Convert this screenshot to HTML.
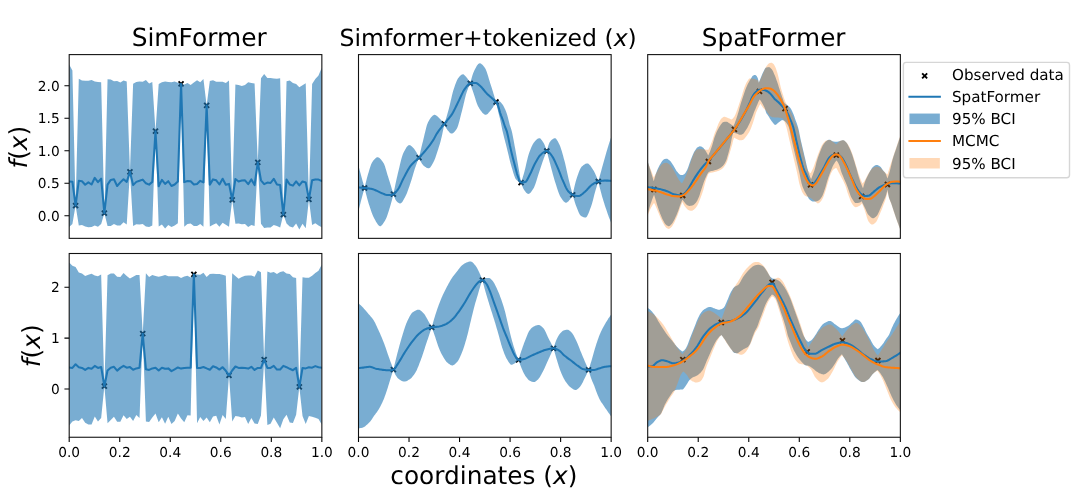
<!DOCTYPE html>
<html lang="en">
<head>
<meta charset="utf-8">
<title>SimFormer vs SpatFormer posterior comparison</title>
<style>
html,body{margin:0;padding:0;background:#ffffff;}
body{width:1088px;height:504px;overflow:hidden;}
svg text{fill:#000000;text-rendering:geometricPrecision;}
</style>
</head>
<body>
<svg width="1088" height="504" viewBox="0 0 1088 504" style="display:block;font-family:'DejaVu Sans', 'Liberation Sans', sans-serif">
<rect width="1088" height="504" fill="#ffffff"/>
<defs>
<clipPath id="c00"><rect x="69.2" y="54.6" width="252.65" height="183.75"/></clipPath>
<clipPath id="c01"><rect x="358.5" y="54.6" width="252.65" height="183.75"/></clipPath>
<clipPath id="c02"><rect x="647.7" y="54.6" width="252.65" height="183.75"/></clipPath>
<clipPath id="c10"><rect x="69.2" y="253.5" width="252.65" height="183.75"/></clipPath>
<clipPath id="c11"><rect x="358.5" y="253.5" width="252.65" height="183.75"/></clipPath>
<clipPath id="c12"><rect x="647.7" y="253.5" width="252.65" height="183.75"/></clipPath>
</defs>
<g clip-path="url(#c00)">
<path d="M73.09,203.1L78.09,208.1M73.09,208.1L78.09,203.1M101.86,210.7L106.86,215.7M101.86,215.7L106.86,210.7M127.43,169.3L132.43,174.3M127.43,174.3L132.43,169.3M153,128.7L158,133.7M153,133.7L158,128.7M178.57,81.4L183.57,86.4M178.57,86.4L183.57,81.4M204.14,102.9L209.14,107.9M204.14,107.9L209.14,102.9M229.71,197.3L234.71,202.3M229.71,202.3L234.71,197.3M255.28,159.8L260.28,164.8M255.28,164.8L260.28,159.8M280.85,212.1L285.85,217.1M280.85,217.1L285.85,212.1M306.42,196.9L311.42,201.9M306.42,201.9L311.42,196.9" fill="none" stroke="#000000" stroke-width="1.9" stroke-linecap="butt"/>
<path d="M69.2,64.5L72.4,70.4L75.59,205.6L78.79,78.65L81.98,80.5L85.18,80.75L88.38,80.7L91.57,80L94.77,81.6L97.97,81.9L101.16,82.3L104.36,213.2L107.55,79.3L110.75,79.6L113.95,81.2L117.14,81.1L120.34,82.5L123.54,80.5L126.73,81.4L129.93,171.8L133.12,83.7L136.32,82.1L139.52,81.4L142.71,81.85L145.91,80L149.11,83.6L152.3,82.1L155.5,131.2L158.69,84.1L161.89,82.3L165.09,81.4L168.28,82.1L171.48,82.3L174.67,81.6L177.87,82.8L181.07,83.9L184.26,84.6L187.46,82.9L190.66,85L193.85,82.5L197.05,80.3L200.24,82.3L203.44,79.1L206.64,105.4L209.83,81.1L213.03,80.3L216.23,81.7L219.42,81.85L222.62,81.7L225.81,83L229.01,80.5L232.21,199.8L235.4,84.6L238.6,85L241.79,85.95L244.99,84.9L248.19,82.3L251.38,83L254.58,83.4L257.78,162.3L260.97,78.2L264.17,73.9L267.36,77.9L270.56,78L273.76,78.5L276.95,78.8L280.15,78.2L283.35,214.6L286.54,81.2L289.74,80.5L292.93,83L296.13,84.1L299.33,87.3L302.52,85.2L305.72,83.2L308.92,199.4L312.11,84.1L315.31,79.1L318.5,75.5L321.7,67.7L321.7,227.3L318.5,225.5L315.31,223.2L312.11,224.9L308.92,199.4L305.72,228.3L302.52,223.7L299.33,229.5L296.13,223.4L292.93,227.6L289.74,226.4L286.54,223.4L283.35,214.6L280.15,227.6L276.95,226.1L273.76,225L270.56,227.6L267.36,227.6L264.17,227.96L260.97,223.7L257.78,162.3L254.58,225.95L251.38,225L248.19,227.05L244.99,224.1L241.79,224.3L238.6,223.4L235.4,223.7L232.21,199.8L229.01,226.7L225.81,224.8L222.62,222.8L219.42,226.7L216.23,223.2L213.03,224.8L209.83,226.4L206.64,105.4L203.44,226.7L200.24,223.9L197.05,225.95L193.85,226.1L190.66,223.4L187.46,223.9L184.26,226.7L181.07,83.9L177.87,223.2L174.67,225.5L171.48,226.9L168.28,224.9L165.09,228.5L161.89,224.6L158.69,226.4L155.5,131.2L152.3,225.5L149.11,226.9L145.91,226.4L142.71,223.9L139.52,224.6L136.32,224.3L133.12,226.1L129.93,171.8L126.73,224.6L123.54,222.3L120.34,225.5L117.14,225.5L113.95,224.1L110.75,226.1L107.55,225.95L104.36,213.2L101.16,224.1L97.97,226.7L94.77,225.5L91.57,227.05L88.38,227.3L85.18,226.4L81.98,224.9L78.79,225.5L75.59,205.6L72.4,224.1L69.2,226.9Z" fill="#1f77b4" fill-opacity="0.6" stroke="none"/>
<path d="M69.2,181.45L72.4,181.7L75.59,205.6L78.79,180.8L81.98,181.2L85.18,184.8L88.38,182.4L91.57,184.5L94.77,177.8L97.97,182.1L101.16,178.7L104.36,213.2L107.55,184.65L110.75,179.9L113.95,179.2L117.14,186L120.34,182.4L123.54,179.2L126.73,181.9L129.93,171.8L133.12,185.1L136.32,181.9L139.52,180.8L142.71,179.6L145.91,183.3L149.11,184.65L152.3,181.9L155.5,131.2L158.69,186.3L161.89,179.9L165.09,183.9L168.28,181.2L171.48,186L174.67,184.5L177.87,181.45L181.07,83.9L184.26,182.1L187.46,181L190.66,181.2L193.85,184.5L197.05,183.9L200.24,180.8L203.44,182.4L206.64,105.4L209.83,184.65L213.03,179.4L216.23,180.3L219.42,184.5L222.62,178.7L225.81,184.65L229.01,183.9L232.21,199.8L235.4,179L238.6,181.45L241.79,180.5L244.99,180.3L248.19,184.2L251.38,179.4L254.58,185.1L257.78,162.3L260.97,180.3L264.17,184.2L267.36,182.6L270.56,183L273.76,178.8L276.95,184.6L280.15,185.1L283.35,214.6L286.54,179.6L289.74,184.5L292.93,185.6L296.13,181.45L299.33,185.4L302.52,181.45L305.72,182.4L308.92,199.4L312.11,180.3L315.31,179.4L318.5,179.6L321.7,181" fill="none" stroke="#1f77b4" stroke-width="2.05" stroke-linejoin="round" stroke-linecap="square"/>
</g>
<rect x="69.2" y="54.6" width="252.65" height="183.75" fill="none" stroke="#111111" stroke-width="1.09" stroke-linejoin="miter"/>
<path d="M69.2,215.8h-4.77M69.2,183.3h-4.77M69.2,150.8h-4.77M69.2,118.3h-4.77M69.2,85.8h-4.77" fill="none" stroke="#000000" stroke-width="1.09"/>
<text x="59.7" y="220.8" font-size="13.75" text-anchor="end">0.0</text>
<text x="59.7" y="188.3" font-size="13.75" text-anchor="end">0.5</text>
<text x="59.7" y="155.8" font-size="13.75" text-anchor="end">1.0</text>
<text x="59.7" y="123.3" font-size="13.75" text-anchor="end">1.5</text>
<text x="59.7" y="90.8" font-size="13.75" text-anchor="end">2.0</text>
<g clip-path="url(#c01)">
<path d="M362.1,185.5L367.1,190.5M362.1,190.5L367.1,185.5M390.9,191.7L395.9,196.7M390.9,196.7L395.9,191.7M416.5,155.2L421.5,160.2M416.5,160.2L421.5,155.2M441.8,121.4L446.8,126.4M441.8,126.4L446.8,121.4M467.75,80.9L472.75,85.9M467.75,85.9L472.75,80.9M493.5,99.5L498.5,104.5M493.5,104.5L498.5,99.5M518.55,180.1L523.55,185.1M518.55,185.1L523.55,180.1M544.3,148.5L549.3,153.5M544.3,153.5L549.3,148.5M570.2,192.3L575.2,197.3M570.2,197.3L575.2,192.3M595.8,179L600.8,184M595.8,184L600.8,179" fill="none" stroke="#000000" stroke-width="1.9" stroke-linecap="butt"/>
<path d="M358,163.63L358.47,165.49L358.94,167.33L359.41,169.15L359.89,170.96L360.36,172.75L360.83,174.52L361.3,176.26L361.77,177.99L362.24,179.71L362.71,181.4L363.19,183.08L363.66,184.74L364.13,186.38L364.6,188L365.1,185.78L365.59,183.61L366.09,181.53L366.59,179.52L367.08,177.61L367.58,175.8L368.08,174.11L368.57,172.41L369.07,170.71L369.57,169.05L370.06,167.46L370.56,165.97L371.06,164.61L371.55,163.43L372.05,162.45L372.54,161.7L373.04,161.02L373.54,160.36L374.03,159.74L374.53,159.16L375.03,158.64L375.52,158.19L376.02,157.81L376.52,157.53L377.01,157.36L377.51,157.3L378.01,157.36L378.5,157.52L379,157.77L379.5,158.11L379.99,158.53L380.49,159.02L380.99,159.57L381.48,160.17L381.98,160.81L382.48,161.48L382.97,162.18L383.47,162.9L383.97,163.81L384.46,164.98L384.96,166.35L385.46,167.89L385.95,169.54L386.45,171.25L386.94,172.99L387.44,174.69L387.94,176.31L388.43,177.86L388.93,179.43L389.43,181.01L389.92,182.61L390.42,184.22L390.92,185.85L391.41,187.49L391.91,189.14L392.41,190.81L392.9,192.5L393.4,194.2L393.89,191.72L394.38,189.28L394.88,186.89L395.37,184.54L395.86,182.24L396.35,179.99L396.85,177.8L397.34,175.67L397.83,173.6L398.32,171.56L398.82,169.48L399.31,167.38L399.8,165.29L400.29,163.23L400.78,161.24L401.28,159.35L401.77,157.58L402.26,155.97L402.75,154.54L403.25,153.33L403.74,152.33L404.23,151.37L404.72,150.43L405.22,149.51L405.71,148.65L406.2,147.84L406.69,147.11L407.18,146.47L407.68,145.93L408.17,145.52L408.66,145.24L409.15,145.11L409.65,145.13L410.14,145.29L410.63,145.54L411.12,145.89L411.62,146.31L412.11,146.77L412.6,147.27L413.09,147.78L413.58,148.29L414.08,148.84L414.57,149.46L415.06,150.15L415.55,150.9L416.05,151.72L416.54,152.59L417.03,153.52L417.52,154.5L418.02,155.52L418.51,156.59L419,157.7L419.5,155.53L419.99,153.38L420.49,151.26L420.98,149.17L421.48,147.11L421.98,145.08L422.47,143.09L422.97,141.13L423.46,139.1L423.96,136.99L424.46,134.85L424.95,132.72L425.45,130.64L425.95,128.65L426.44,126.8L426.94,125.11L427.43,123.64L427.93,122.42L428.43,121.49L428.92,120.65L429.42,119.84L429.91,119.05L430.41,118.3L430.91,117.61L431.4,116.97L431.9,116.39L432.39,115.89L432.89,115.47L433.39,115.15L433.88,114.92L434.38,114.81L434.87,114.82L435.37,114.95L435.87,115.19L436.36,115.52L436.86,115.91L437.35,116.35L437.85,116.82L438.35,117.31L438.84,117.78L439.34,118.22L439.84,118.68L440.33,119.16L440.83,119.68L441.32,120.21L441.82,120.77L442.32,121.36L442.81,121.96L443.31,122.59L443.8,123.24L444.3,123.9L444.8,122.4L445.3,120.85L445.8,119.28L446.3,117.66L446.8,116.01L447.29,114.32L447.79,112.59L448.29,110.83L448.79,108.97L449.29,106.98L449.79,104.89L450.29,102.75L450.79,100.57L451.29,98.41L451.79,96.29L452.28,94.25L452.78,92.32L453.28,90.55L453.78,88.95L454.28,87.47L454.78,86.01L455.28,84.59L455.78,83.22L456.28,81.94L456.78,80.76L457.27,79.7L457.77,78.8L458.27,78.06L458.77,77.46L459.27,76.87L459.77,76.31L460.27,75.79L460.77,75.32L461.27,74.93L461.77,74.61L462.27,74.4L462.76,74.3L463.26,74.35L463.76,74.57L464.26,74.92L464.76,75.39L465.26,75.93L465.76,76.51L466.26,77.11L466.76,77.68L467.26,78.31L467.75,79.01L468.25,79.78L468.75,80.61L469.25,81.49L469.75,82.43L470.25,83.4L470.75,81.45L471.24,79.56L471.74,77.74L472.23,76.04L472.73,74.48L473.22,73.09L473.72,71.89L474.21,70.86L474.71,69.85L475.2,68.85L475.7,67.89L476.19,66.97L476.69,66.11L477.18,65.34L477.68,64.66L478.17,64.1L478.67,63.68L479.16,63.41L479.66,63.3L480.15,63.35L480.65,63.51L481.14,63.78L481.64,64.13L482.13,64.56L482.63,65.06L483.12,65.62L483.62,66.22L484.12,66.85L484.61,67.51L485.11,68.2L485.6,69.09L486.1,70.19L486.59,71.47L487.09,72.9L487.58,74.44L488.08,76.06L488.57,77.72L489.07,79.4L489.56,81.05L490.06,82.65L490.55,84.17L491.05,85.7L491.54,87.25L492.04,88.82L492.53,90.41L493.03,92.01L493.52,93.63L494.02,95.27L494.51,96.93L495.01,98.6L495.5,100.29L496,102L496.49,101.69L496.98,101.47L497.47,101.33L497.96,101.25L498.46,101.21L498.95,101.2L499.44,101.23L499.93,101.48L500.42,101.91L500.91,102.47L501.4,103.08L501.89,103.69L502.39,104.33L502.88,105.05L503.37,105.86L503.86,106.75L504.35,107.69L504.84,108.7L505.33,109.81L505.82,111.03L506.31,112.35L506.81,113.76L507.3,115.27L507.79,116.96L508.28,118.94L508.77,121.03L509.26,123.07L509.75,124.88L510.24,126.37L510.74,127.74L511.23,129.22L511.72,131.03L512.21,133.12L512.7,135.45L513.19,137.95L513.68,140.57L514.17,143.25L514.66,145.95L515.16,148.6L515.65,151.27L516.14,154.02L516.63,156.82L517.12,159.66L517.61,162.51L518.1,165.36L518.59,168.2L519.09,171.05L519.58,173.92L520.07,176.8L520.56,179.69L521.05,182.6L521.55,181.11L522.04,179.58L522.54,178L523.03,176.37L523.53,174.7L524.02,172.99L524.52,171.21L525.01,169.27L525.51,167.2L526,165.05L526.5,162.87L526.99,160.72L527.49,158.65L527.98,156.72L528.48,154.99L528.97,153.49L529.47,152.12L529.96,150.78L530.46,149.49L530.95,148.26L531.45,147.08L531.94,145.98L532.44,144.96L532.93,144.03L533.43,143.2L533.92,142.48L534.42,141.88L534.92,141.33L535.41,140.79L535.91,140.27L536.4,139.78L536.9,139.33L537.39,138.94L537.89,138.62L538.38,138.39L538.88,138.24L539.37,138.2L539.87,138.33L540.36,138.62L540.86,139.07L541.35,139.63L541.85,140.29L542.34,141.01L542.84,141.77L543.33,142.54L543.83,143.35L544.32,144.32L544.82,145.44L545.31,146.69L545.81,148.05L546.3,149.49L546.8,151L547.3,149.13L547.8,147.32L548.29,145.64L548.79,144.16L549.29,142.94L549.79,142.05L550.29,141.44L550.78,140.87L551.28,140.33L551.78,139.84L552.28,139.41L552.78,139.03L553.27,138.71L553.77,138.47L554.27,138.3L554.77,138.21L555.27,138.24L555.77,138.51L556.26,138.99L556.76,139.65L557.26,140.44L557.76,141.33L558.26,142.28L558.75,143.23L559.25,144.2L559.75,145.3L560.25,146.56L560.75,147.96L561.24,149.47L561.74,151.09L562.24,152.78L562.74,154.54L563.24,156.34L563.73,158.18L564.23,160.02L564.73,161.87L565.23,163.86L565.73,165.98L566.23,168.2L566.72,170.48L567.22,172.78L567.72,175.08L568.22,177.33L568.72,179.5L569.21,181.56L569.71,183.55L570.21,185.51L570.71,187.44L571.21,189.33L571.7,191.19L572.2,193.01L572.7,194.8L573.19,192.4L573.68,190.06L574.18,187.81L574.67,185.67L575.16,183.66L575.65,181.79L576.15,180.1L576.64,178.57L577.13,177.08L577.62,175.62L578.12,174.2L578.61,172.84L579.1,171.56L579.59,170.37L580.08,169.29L580.58,168.33L581.07,167.51L581.56,166.85L582.05,166.36L582.55,165.92L583.04,165.49L583.53,165.09L584.02,164.72L584.52,164.38L585.01,164.09L585.5,163.84L585.99,163.64L586.48,163.49L586.98,163.42L587.47,163.41L587.96,163.53L588.45,163.79L588.95,164.17L589.44,164.65L589.93,165.21L590.42,165.84L590.92,166.52L591.41,167.23L591.9,167.97L592.39,168.7L592.88,169.42L593.38,170.19L593.87,171.04L594.36,171.96L594.85,172.96L595.35,174.02L595.84,175.14L596.33,176.32L596.82,177.55L597.32,178.82L597.81,180.14L598.3,181.5L598.79,179.68L599.29,177.86L599.78,176.05L600.27,174.24L600.76,172.44L601.26,170.65L601.75,168.86L602.24,167.08L602.73,165.3L603.23,163.52L603.72,161.74L604.21,159.96L604.7,158.18L605.2,156.42L605.69,154.69L606.18,152.98L606.67,151.31L607.17,149.67L607.66,148.05L608.15,146.44L608.64,144.86L609.14,143.3L609.63,141.76L610.12,140.25L610.61,138.75L611.11,137.29L611.6,135.85L611.6,224.05L611.11,222.83L610.61,221.59L610.12,220.33L609.63,219.04L609.14,217.73L608.64,216.39L608.15,215.03L607.66,213.65L607.17,212.24L606.67,210.81L606.18,209.36L605.69,207.9L605.2,206.41L604.7,204.91L604.21,203.37L603.72,201.81L603.23,200.21L602.73,198.57L602.24,196.89L601.75,195.16L601.26,193.37L600.76,191.52L600.27,189.61L599.78,187.65L599.29,185.64L598.79,183.59L598.3,181.5L597.81,183L597.32,184.52L596.82,186.08L596.33,187.67L595.84,189.28L595.35,190.95L594.85,192.74L594.36,194.62L593.87,196.56L593.38,198.52L592.88,200.44L592.39,202.28L591.9,204.01L591.41,205.57L590.92,206.92L590.42,208.23L589.93,209.57L589.44,210.91L588.95,212.21L588.45,213.44L587.96,214.58L587.47,215.58L586.98,216.41L586.48,217.05L585.99,217.46L585.5,217.6L585.01,217.57L584.52,217.5L584.02,217.37L583.53,217.21L583.04,217.01L582.55,216.77L582.05,216.51L581.56,216.22L581.07,215.91L580.58,215.54L580.08,214.96L579.59,214.18L579.1,213.25L578.61,212.19L578.12,211.04L577.62,209.81L577.13,208.56L576.64,207.3L576.15,206.05L575.65,204.7L575.16,203.26L574.67,201.72L574.18,200.09L573.68,198.39L573.19,196.62L572.7,194.8L572.2,195.81L571.7,196.77L571.21,197.66L570.71,198.46L570.21,199.15L569.71,199.73L569.21,200.31L568.72,200.88L568.22,201.41L567.72,201.87L567.22,202.26L566.72,202.54L566.23,202.68L565.73,202.68L565.23,202.53L564.73,202.25L564.23,201.87L563.73,201.38L563.24,200.82L562.74,200.2L562.24,199.53L561.74,198.82L561.24,198.1L560.75,197.37L560.25,196.51L559.75,195.48L559.25,194.32L558.75,193.04L558.26,191.67L557.76,190.21L557.26,188.7L556.76,187.15L556.26,185.59L555.77,184.03L555.27,182.49L554.77,180.9L554.27,179.23L553.77,177.49L553.27,175.71L552.78,173.89L552.28,172.04L551.78,170.17L551.28,168.3L550.78,166.44L550.29,164.58L549.79,162.7L549.29,160.79L548.79,158.87L548.29,156.93L547.8,154.97L547.3,152.99L546.8,151L546.3,152.14L545.81,153.32L545.31,154.52L544.82,155.76L544.32,157.02L543.83,158.32L543.33,159.65L542.84,161.04L542.34,162.47L541.85,163.95L541.35,165.45L540.86,166.97L540.36,168.49L539.87,170.01L539.37,171.5L538.88,172.97L538.38,174.47L537.89,176.05L537.39,177.67L536.9,179.31L536.4,180.93L535.91,182.5L535.41,183.98L534.92,185.36L534.42,186.59L533.92,187.65L533.43,188.51L532.93,189.29L532.44,190.05L531.94,190.8L531.45,191.5L530.95,192.14L530.46,192.71L529.96,193.19L529.47,193.55L528.97,193.8L528.48,193.9L527.98,193.84L527.49,193.65L526.99,193.32L526.5,192.89L526,192.38L525.51,191.8L525.01,191.18L524.52,190.53L524.02,189.85L523.53,188.99L523.03,187.95L522.54,186.76L522.04,185.46L521.55,184.06L521.05,182.6L520.56,182.56L520.07,182.44L519.58,182.26L519.09,182.01L518.59,181.7L518.1,181.34L517.61,180.94L517.12,180.5L516.63,180.03L516.14,179.54L515.65,178.91L515.16,178L514.66,176.85L514.17,175.51L513.68,174.03L513.19,172.43L512.7,170.76L512.21,169.07L511.72,167.39L511.23,165.75L510.74,164L510.24,162.13L509.75,160.18L509.26,158.16L508.77,156.1L508.28,154.02L507.79,151.95L507.3,149.91L506.81,147.93L506.31,146L505.82,144.11L505.33,142.24L504.84,140.37L504.35,138.48L503.86,136.56L503.37,134.58L502.88,132.53L502.39,130.38L501.89,128.05L501.4,125.51L500.91,122.97L500.42,120.65L499.93,118.59L499.44,116.65L498.95,114.71L498.46,112.68L497.96,110.6L497.47,108.49L496.98,106.36L496.49,104.19L496,102L495.5,102.93L495.01,103.84L494.51,104.71L494.02,105.56L493.52,106.37L493.03,107.15L492.53,107.9L492.04,108.61L491.54,109.28L491.05,109.92L490.55,110.51L490.06,111.08L489.56,111.66L489.07,112.26L488.57,112.85L488.08,113.4L487.58,113.89L487.09,114.3L486.59,114.6L486.1,114.77L485.6,114.79L485.11,114.7L484.61,114.51L484.12,114.23L483.62,113.87L483.12,113.44L482.63,112.94L482.13,112.38L481.64,111.76L481.14,111.1L480.65,110.4L480.15,109.67L479.66,108.92L479.16,108.15L478.67,107.37L478.17,106.53L477.68,105.49L477.18,104.27L476.69,102.9L476.19,101.42L475.7,99.88L475.2,98.31L474.71,96.74L474.21,95.22L473.72,93.77L473.22,92.33L472.73,90.87L472.23,89.4L471.74,87.92L471.24,86.42L470.75,84.92L470.25,83.4L469.75,84.37L469.25,85.43L468.75,86.59L468.25,87.84L467.75,89.16L467.26,90.56L466.76,92.03L466.26,93.59L465.76,95.36L465.26,97.29L464.76,99.34L464.26,101.46L463.76,103.61L463.26,105.75L462.76,107.83L462.27,109.81L461.77,111.67L461.27,113.59L460.77,115.58L460.27,117.59L459.77,119.58L459.27,121.51L458.77,123.33L458.27,125.01L457.77,126.49L457.27,127.75L456.78,128.73L456.28,129.46L455.78,130.16L455.28,130.82L454.78,131.44L454.28,132.01L453.78,132.51L453.28,132.93L452.78,133.26L452.28,133.48L451.79,133.59L451.29,133.57L450.79,133.39L450.29,133.09L449.79,132.68L449.29,132.18L448.79,131.62L448.29,131.01L447.79,130.39L447.29,129.77L446.8,129.05L446.3,128.2L445.8,127.24L445.3,126.19L444.8,125.07L444.3,123.9L443.8,126.58L443.31,129.15L442.81,131.61L442.32,133.95L441.82,136.19L441.32,138.3L440.83,140.28L440.33,142.14L439.84,143.88L439.34,145.52L438.84,147.11L438.35,148.65L437.85,150.18L437.35,151.74L436.86,153.3L436.36,154.85L435.87,156.34L435.37,157.76L434.87,159.09L434.38,160.3L433.88,161.37L433.39,162.28L432.89,163.19L432.39,164.1L431.9,164.97L431.4,165.8L430.91,166.55L430.41,167.2L429.91,167.72L429.42,168.09L428.92,168.28L428.43,168.29L427.93,168.21L427.43,168.08L426.94,167.88L426.44,167.64L425.95,167.35L425.45,167.02L424.95,166.67L424.46,166.29L423.96,165.89L423.46,165.48L422.97,164.98L422.47,164.36L421.98,163.63L421.48,162.81L420.98,161.91L420.49,160.93L419.99,159.9L419.5,158.82L419,157.7L418.51,158.87L418.02,160.08L417.52,161.33L417.03,162.61L416.54,163.93L416.05,165.28L415.55,166.67L415.06,168.1L414.57,169.62L414.08,171.21L413.58,172.86L413.09,174.53L412.6,176.21L412.11,177.87L411.62,179.48L411.12,181.03L410.63,182.5L410.14,183.96L409.65,185.43L409.15,186.89L408.66,188.34L408.17,189.75L407.68,191.12L407.18,192.42L406.69,193.65L406.2,194.79L405.71,195.83L405.22,196.75L404.72,197.65L404.23,198.57L403.74,199.49L403.25,200.36L402.75,201.18L402.26,201.92L401.77,202.54L401.28,203.03L400.78,203.35L400.29,203.5L399.8,203.46L399.31,203.33L398.82,203.1L398.32,202.79L397.83,202.42L397.34,202L396.85,201.54L396.35,201.04L395.86,200.35L395.37,199.42L394.88,198.3L394.38,197.04L393.89,195.65L393.4,194.2L392.9,196.24L392.41,198.22L391.91,200.15L391.41,202.02L390.92,203.83L390.42,205.55L389.92,207.2L389.43,208.79L388.93,210.39L388.43,211.98L387.94,213.53L387.44,215.01L386.94,216.41L386.45,217.7L385.95,218.86L385.46,219.86L384.96,220.7L384.46,221.52L383.97,222.33L383.47,223.12L382.97,223.85L382.48,224.52L381.98,225.11L381.48,225.58L380.99,225.94L380.49,226.15L379.99,226.2L379.5,226.07L379,225.77L378.5,225.34L378.01,224.77L377.51,224.1L377.01,223.34L376.52,222.52L376.02,221.64L375.52,220.74L375.03,219.82L374.53,218.91L374.03,218.01L373.54,217.02L373.04,215.93L372.54,214.74L372.05,213.48L371.55,212.15L371.06,210.75L370.56,209.3L370.06,207.81L369.57,206.29L369.07,204.74L368.57,203.17L368.08,201.53L367.58,199.8L367.08,197.99L366.59,196.11L366.09,194.16L365.59,192.16L365.1,190.1L364.6,188L364.13,189.57L363.66,191.18L363.19,192.82L362.71,194.51L362.24,196.22L361.77,197.98L361.3,199.76L360.83,201.59L360.36,203.46L359.89,205.37L359.41,207.32L358.94,209.3L358.47,211.32L358,213.38Z" fill="#1f77b4" fill-opacity="0.6" stroke="none"/>
<path d="M358,187.47L359,187.53L360,187.6L361,187.67L362,187.76L363,187.84L364,187.94L365,188.04L366,188.14L367,188.25L368,188.37L369,188.5L370,188.64L371,188.81L372,189L373,189.26L374,189.62L375,190.04L376,190.49L377,190.94L378,191.37L379,191.83L380,192.32L381,192.8L382,193.26L383,193.66L384,194.06L385,194.47L386,194.8L387,194.99L388,195L389,194.98L390,194.96L391,194.92L392,194.8L393,194.4L394,193.84L395,193L396,191.91L397,190.65L398,189.3L399,187.7L400,185.74L401,183.59L402,181.38L403,179.27L404,177.36L405,175.45L406,173.54L407,171.66L408,169.86L409,168.19L410,166.67L411,165.35L412,164.21L413,163.18L414,162.23L415,161.34L416,160.48L417,159.6L418,158.69L419,157.7L420,156.66L421,155.59L422,154.51L423,153.4L424,152.25L425,151.08L426,149.87L427,148.65L428,147.39L429,146.1L430,144.77L431,143.39L432,141.95L433,140.43L434,138.72L435,136.87L436,135.03L437,133.32L438,131.83L439,130.46L440,129.17L441,127.93L442,126.72L443,125.51L444,124.28L445,123.02L446,121.82L447,120.63L448,119.45L449,118.23L450,116.95L451,115.58L452,114.1L453,112.44L454,110.58L455,108.59L456,106.53L457,104.44L458,102.4L459,100.38L460,98.24L461,96.04L462,93.88L463,91.87L464,90.09L465,88.63L466,87.28L467,85.97L468,84.82L469,83.94L470,83.45L471,83.3L472,83.19L473,83.1L474,83.04L475,83.01L476,83.02L477,83.38L478,84.07L479,84.94L480,85.84L481,86.74L482,87.8L483,88.99L484,90.24L485,91.48L486,92.65L487,93.7L488,94.65L489,95.56L490,96.44L491,97.31L492,98.22L493,99.1L494,99.94L495,100.86L496,102L497,103.57L498,105.67L499,108.69L500,112.48L501,115.37L502,117.96L503,120.67L504,123.73L505,126.73L506,129.12L507,131.91L508,136.17L509,141.14L510,146.07L511,150.38L512,154.46L513,158.42L514,162.3L515,166.12L516,170.05L517,173.82L518,176.73L519,179.46L520,181.65L521,182.6L522,182.57L523,182.46L524,182.3L525,182.08L526,181.57L527,180.23L528,178.35L529,176.27L530,174.33L531,172.27L532,170.03L533,167.72L534,165.48L535,163.45L536,161.65L537,159.89L538,158.21L539,156.69L540,155.4L541,154.43L542,153.56L543,152.74L544,152.02L545,151.45L546,151.1L547,151.01L548,151.41L549,152.26L550,153.41L551,154.69L552,156L553,157.58L554,159.47L555,161.58L556,163.81L557,166.06L558,168.35L559,170.86L560,173.47L561,176.08L562,178.58L563,180.87L564,183.17L565,185.46L566,187.61L567,189.49L568,190.96L569,192.07L570,193.04L571,193.85L572,194.48L573,194.91L574,195.27L575,195.58L576,195.84L577,196.02L578,196.1L579,196L580,195.61L581,195L582,194.25L583,193.41L584,192.58L585,191.78L586,190.84L587,189.78L588,188.65L589,187.52L590,186.45L591,185.5L592,184.73L593,184.07L594,183.43L595,182.84L596,182.32L597,181.89L598,181.57L599,181.35L600,181.14L601,180.96L602,180.8L603,180.68L604,180.61L605,180.6L606,180.6L607,180.61L608,180.64L609,180.68L610,180.75L611.6,180.94" fill="none" stroke="#1f77b4" stroke-width="2.05" stroke-linejoin="round" stroke-linecap="square"/>
</g>
<rect x="358.5" y="54.6" width="252.65" height="183.75" fill="none" stroke="#111111" stroke-width="1.09" stroke-linejoin="miter"/>
<g clip-path="url(#c02)">
<path d="M647.2,159.94L647.7,161.5L648.2,163.08L648.7,164.67L649.2,166.27L649.7,167.89L650.2,169.52L650.7,171.16L651.2,172.82L651.7,174.49L652.2,176.17L652.7,177.87L653.2,179.58L653.7,181.3L654.2,179.44L654.7,177.66L655.2,175.97L655.7,174.37L656.2,172.88L656.7,171.51L657.2,170.26L657.7,169.09L658.2,167.97L658.7,166.93L659.2,165.95L659.7,165.03L660.2,164.18L660.7,163.39L661.2,162.59L661.7,161.81L662.2,161.09L662.7,160.46L663.2,159.95L663.7,159.6L664.2,159.35L664.7,159.12L665.2,158.93L665.7,158.79L666.2,158.71L666.7,158.72L667.2,158.84L667.7,159.07L668.2,159.38L668.7,159.75L669.2,160.14L669.7,160.54L670.2,161.02L670.7,161.6L671.2,162.28L671.7,163.02L672.2,163.8L672.7,164.58L673.2,165.35L673.7,166.12L674.2,166.96L674.7,167.84L675.2,168.72L675.7,169.59L676.2,170.4L676.7,171.13L677.2,171.76L677.7,172.37L678.2,172.97L678.7,173.51L679.2,174L679.7,174.39L680.2,174.67L680.7,174.9L681.2,175.07L681.7,175.09L682.2,175.03L682.7,174.89L683.2,174.71L683.7,174.48L684.2,174.23L684.7,173.86L685.2,173.26L685.7,172.5L686.2,171.62L686.7,170.68L687.2,169.69L687.7,168.5L688.2,167.13L688.7,165.67L689.2,164.19L689.7,162.8L690.2,161.46L690.7,160.1L691.2,158.75L691.7,157.45L692.2,156.2L692.7,155.04L693.2,153.92L693.7,152.85L694.2,151.86L694.7,150.98L695.2,150.17L695.7,149.38L696.2,148.65L696.7,148.02L697.2,147.52L697.7,147.18L698.2,146.89L698.7,146.63L699.2,146.44L699.7,146.32L700.2,146.31L700.7,146.4L701.2,146.57L701.7,146.8L702.2,147.09L702.7,147.4L703.2,147.75L703.7,148.24L704.2,148.88L704.7,149.6L705.2,150.35L705.7,151.1L706.2,151.87L706.7,152.69L707.2,153.55L707.7,154.46L708.2,155.4L708.69,154.41L709.19,153.34L709.68,152.2L710.18,150.98L710.67,149.7L711.16,148.37L711.66,146.99L712.15,145.53L712.65,143.87L713.14,142.07L713.64,140.26L714.13,138.54L714.62,137.03L715.12,135.69L715.61,134.42L716.11,133.23L716.6,132.1L717.09,131.03L717.59,130.02L718.08,129.06L718.58,128.13L719.07,127.24L719.56,126.41L720.06,125.65L720.55,124.96L721.05,124.31L721.54,123.66L722.04,123.05L722.53,122.55L723.02,122.21L723.52,122.05L724.01,121.94L724.51,121.84L725,121.77L725.49,121.72L725.99,121.7L726.48,121.74L726.98,121.87L727.47,122.09L727.96,122.37L728.46,122.69L728.95,123.02L729.45,123.34L729.94,123.65L730.44,123.96L730.93,124.29L731.42,124.64L731.92,125.01L732.41,125.39L732.91,125.79L733.4,126.2L733.9,125.09L734.4,123.9L734.89,122.65L735.39,121.35L735.89,119.99L736.39,118.57L736.89,117.06L737.38,115.47L737.88,113.83L738.38,112.17L738.88,110.44L739.38,108.62L739.87,106.8L740.37,105.01L740.87,103.34L741.37,101.75L741.87,100.21L742.36,98.7L742.86,97.21L743.36,95.71L743.86,94.2L744.36,92.68L744.85,91.2L745.35,89.78L745.85,88.47L746.35,87.27L746.85,86.14L747.35,85.07L747.84,84.05L748.34,83.07L748.84,82.13L749.34,81.22L749.84,80.36L750.33,79.53L750.83,78.72L751.33,77.92L751.83,77.05L752.33,76.28L752.82,75.79L753.32,75.49L753.82,75.24L754.32,75.05L754.82,74.93L755.31,74.91L755.81,75.14L756.31,75.65L756.81,76.37L757.31,77.24L757.8,78.37L758.3,80.3L758.8,82.65L759.3,81.4L759.8,80.17L760.29,78.96L760.79,77.76L761.29,76.53L761.79,75.29L762.29,74.08L762.78,72.94L763.28,71.92L763.78,70.98L764.28,70.01L764.78,69.09L765.28,68.32L765.77,67.78L766.27,67.55L766.77,67.4L767.27,67.28L767.77,67.19L768.26,67.13L768.76,67.1L769.26,67.15L769.76,67.36L770.26,67.71L770.75,68.14L771.25,68.64L771.75,69.17L772.25,69.89L772.75,70.81L773.24,71.87L773.74,73L774.24,74.15L774.74,75.31L775.24,76.56L775.74,77.87L776.23,79.25L776.73,80.65L777.23,82.07L777.73,83.55L778.23,85.09L778.72,86.66L779.22,88.23L779.72,89.76L780.22,91.26L780.72,92.76L781.21,94.25L781.71,95.71L782.21,97.13L782.71,98.5L783.21,99.95L783.7,101.38L784.2,102.57L784.7,103.31L785.2,103.77L785.7,104.12L786.2,104.41L786.69,104.66L787.19,104.93L787.69,105.25L788.19,105.66L788.69,106.14L789.18,106.66L789.68,107.24L790.18,107.87L790.68,108.57L791.18,109.36L791.67,110.29L792.17,111.31L792.67,112.41L793.17,113.56L793.67,114.75L794.16,116.08L794.66,117.49L795.16,118.95L795.66,120.38L796.16,121.75L796.66,123.08L797.15,124.45L797.65,125.97L798.15,127.71L798.65,129.77L799.15,132.06L799.64,134.48L800.14,136.96L800.64,139.38L801.14,141.67L801.64,143.85L802.13,145.99L802.63,148.11L803.13,150.22L803.63,152.31L804.13,154.39L804.62,156.48L805.12,158.57L805.62,160.73L806.12,162.96L806.62,165.2L807.12,167.35L807.61,169.33L808.11,171.07L808.61,172.66L809.11,174.18L809.61,175.59L810.1,176.89L810.6,178.07L811.1,179.1L811.6,177.89L812.1,176.62L812.6,175.31L813.1,173.95L813.6,172.55L814.09,171.15L814.59,169.67L815.09,168.03L815.59,166.04L816.09,163.75L816.59,161.83L817.09,160.14L817.59,158.57L818.09,157.09L818.59,155.68L819.08,154.34L819.58,153.05L820.08,151.78L820.58,150.51L821.08,149.25L821.58,148.04L822.08,146.9L822.58,145.87L823.08,144.95L823.58,144.19L824.08,143.52L824.57,142.89L825.07,142.31L825.57,141.79L826.07,141.33L826.57,140.94L827.07,140.62L827.57,140.34L828.07,140.08L828.57,139.86L829.07,139.73L829.56,139.71L830.06,139.84L830.56,140.1L831.06,140.42L831.56,140.77L832.06,141.08L832.56,141.32L833.06,141.44L833.56,141.53L834.06,141.61L834.55,141.68L835.05,141.74L835.55,141.78L836.05,141.8L836.55,141.79L837.05,141.74L837.55,141.66L838.05,141.55L838.55,141.42L839.05,141.28L839.55,141.14L840.04,141L840.54,140.86L841.04,140.72L841.54,140.53L842.04,140.35L842.54,140.23L843.04,140.21L843.54,140.31L844.04,140.54L844.54,140.85L845.03,141.24L845.53,141.68L846.03,142.14L846.53,142.68L847.03,143.42L847.53,144.3L848.03,145.27L848.53,146.26L849.03,147.25L849.53,148.28L850.02,149.37L850.52,150.52L851.02,151.73L851.52,153L852.02,154.34L852.52,155.79L853.02,157.32L853.52,158.89L854.02,160.49L854.52,162.1L855.02,163.73L855.51,165.4L856.01,167.1L856.51,168.81L857.01,170.54L857.51,172.34L858.01,174.2L858.51,176.05L859.01,177.78L859.51,179.32L860.01,180.79L860.5,182.21L861,183.56L861.5,184.85L862,186.05L862.5,187.18L863,188.2L863.5,186.41L864,184.72L864.49,183.17L864.99,181.78L865.49,180.52L865.99,179.34L866.49,178.24L866.98,177.18L867.48,176.14L867.98,175.13L868.48,174.14L868.98,173.19L869.47,172.27L869.97,171.4L870.47,170.57L870.97,169.72L871.47,168.89L871.96,168.12L872.46,167.45L872.96,166.93L873.46,166.53L873.96,166.14L874.45,165.78L874.95,165.47L875.45,165.2L875.95,165.02L876.44,164.91L876.94,164.91L877.44,165L877.94,165.18L878.44,165.42L878.93,165.71L879.43,166.04L879.93,166.39L880.43,166.76L880.93,167.26L881.42,167.9L881.92,168.64L882.42,169.41L882.92,170.15L883.42,170.81L883.91,171.39L884.41,171.97L884.91,172.6L885.41,173.32L885.91,174.21L886.4,175.42L886.9,176.93L887.4,178.6L887.9,177.22L888.4,175.76L888.9,174.2L889.4,172.54L889.9,170.74L890.4,168.73L890.9,166.6L891.4,164.42L891.9,162.27L892.4,160.24L892.9,158.4L893.4,156.76L893.9,155.24L894.4,153.79L894.9,152.37L895.4,150.94L895.9,149.45L896.4,147.95L896.9,146.44L897.4,144.94L897.9,143.45L898.4,142L898.9,140.58L899.4,139.18L899.9,137.81L900.4,136.46L900.9,135.13L900.9,231.13L900.4,229.77L899.91,228.38L899.41,227.01L898.91,225.67L898.42,224.35L897.92,223.02L897.43,221.68L896.93,220.3L896.43,218.89L895.94,217.45L895.44,216L894.94,214.53L894.45,213.04L893.95,211.55L893.46,210.01L892.96,208.45L892.46,206.9L891.97,205.38L891.47,203.92L890.97,202.61L890.48,201.43L889.98,200.25L889.49,198.94L888.99,197.39L888.49,195.36L888,192.63L887.5,189.5L887,191.55L886.5,193.46L886.01,195.17L885.51,196.63L885.01,197.9L884.51,199.06L884.01,200.16L883.52,201.25L883.02,202.39L882.52,203.58L882.02,204.76L881.52,205.94L881.02,207.1L880.53,208.21L880.03,209.31L879.53,210.47L879.03,211.64L878.53,212.78L878.04,213.84L877.54,214.77L877.04,215.52L876.54,216.05L876.04,216.51L875.55,216.95L875.05,217.35L874.55,217.69L874.05,217.95L873.55,218.13L873.06,218.2L872.56,218.15L872.06,218L871.56,217.76L871.06,217.44L870.57,217.05L870.07,216.6L869.57,216.12L869.07,215.6L868.57,215.08L868.08,214.47L867.58,213.66L867.08,212.69L866.58,211.63L866.08,210.5L865.58,209.37L865.09,208.29L864.59,207.28L864.09,206.29L863.59,205.29L863.09,204.3L862.6,203.3L862.1,202.3L861.6,201.3L861.11,201.7L860.62,202.08L860.12,202.39L859.63,202.62L859.14,202.74L858.65,202.83L858.15,202.91L857.66,202.97L857.17,203.03L856.68,203.07L856.19,203.09L855.69,203.1L855.2,202.96L854.71,202.59L854.22,202.03L853.73,201.35L853.23,200.61L852.74,199.86L852.25,199.11L851.76,198.24L851.26,197.25L850.77,196.15L850.28,194.9L849.79,193.52L849.3,192.08L848.8,190.6L848.31,189.15L847.82,187.75L847.33,186.46L846.84,185.23L846.34,184.03L845.85,182.86L845.36,181.7L844.87,180.54L844.37,179.38L843.88,178.2L843.39,177.02L842.9,175.85L842.41,174.67L841.91,173.44L841.42,172.13L840.93,170.63L840.44,168.98L839.95,167.31L839.45,165.76L838.96,164.45L838.47,163.44L837.98,162.52L837.48,161.7L836.99,161.02L836.5,160.5L836,161.04L835.5,161.67L835,162.37L834.51,163.14L834.01,163.98L833.51,164.86L833.01,165.78L832.51,166.81L832.01,167.97L831.51,169.21L831.01,170.5L830.52,171.77L830.02,173.04L829.52,174.35L829.02,175.69L828.52,177.08L828.02,178.53L827.52,180.11L827.02,181.81L826.53,183.57L826.03,185.32L825.53,186.98L825.03,188.53L824.53,190.08L824.03,191.59L823.53,193.02L823.04,194.32L822.54,195.43L822.04,196.39L821.54,197.28L821.04,198.09L820.54,198.8L820.04,199.37L819.54,199.81L819.05,200.18L818.55,200.5L818.05,200.76L817.55,200.98L817.05,201.16L816.55,201.31L816.05,201.41L815.55,201.46L815.06,201.52L814.56,201.56L814.06,201.59L813.56,201.6L813.06,201.58L812.56,201.46L812.06,201.26L811.56,200.99L811.07,200.66L810.57,200.29L810.07,199.9L809.57,199.49L809.07,198.92L808.57,198.19L808.07,197.36L807.58,196.49L807.08,195.63L806.58,194.8L806.08,193.96L805.58,193.08L805.08,192.15L804.58,191.16L804.08,190.15L803.59,189.1L803.09,187.96L802.59,186.7L802.09,185.28L801.59,183.54L801.09,181.37L800.59,178.92L800.09,176.36L799.6,173.85L799.1,171.55L798.6,169.38L798.1,167.26L797.6,165.17L797.1,163.1L796.6,161.02L796.11,158.92L795.61,156.81L795.11,154.69L794.61,152.57L794.11,150.45L793.61,148.33L793.11,146.21L792.61,144.1L792.12,141.99L791.62,139.81L791.12,137.44L790.62,135L790.12,132.59L789.62,130.34L789.12,128.36L788.62,126.77L788.13,125.66L787.63,124.73L787.13,123.9L786.63,123.16L786.13,122.51L785.63,121.95L785.13,121.47L784.64,121.09L784.14,120.77L783.64,120.46L783.14,120.23L782.64,120.11L782.14,120.14L781.64,120.31L781.14,120.58L780.65,120.93L780.15,121.32L779.65,121.72L779.15,122.11L778.65,122.45L778.15,122.85L777.65,123.31L777.15,123.78L776.66,124.22L776.16,124.58L775.66,124.82L775.16,124.9L774.66,124.72L774.16,124.3L773.66,123.71L773.16,123.05L772.67,122.4L772.17,121.8L771.67,121.14L771.17,120.45L770.67,119.71L770.17,118.96L769.67,118.19L769.18,117.36L768.68,116.51L768.18,115.71L767.68,115.02L767.18,114.36L766.68,113.63L766.18,112.73L765.68,111.29L765.19,109.46L764.69,108.1L764.19,106.93L763.69,105.88L763.19,104.91L762.69,104.01L762.19,103.14L761.69,102.31L761.2,101.52L760.7,100.79L760.2,100.11L759.7,99.5L759.2,100.34L758.7,101.29L758.21,102.36L757.71,103.51L757.21,104.69L756.71,105.87L756.21,107.04L755.72,108.22L755.22,109.41L754.72,110.62L754.22,111.85L753.72,113.11L753.22,114.4L752.73,115.68L752.23,116.93L751.73,118.16L751.23,119.4L750.73,120.63L750.24,121.84L749.74,123L749.24,124.1L748.74,125.12L748.24,126.09L747.75,127.03L747.25,127.93L746.75,128.79L746.25,129.59L745.75,130.35L745.25,131.08L744.76,131.82L744.26,132.53L743.76,133.15L743.26,133.65L742.76,133.97L742.27,134.24L741.77,134.47L741.27,134.66L740.77,134.79L740.27,134.85L739.78,134.81L739.28,134.69L738.78,134.51L738.28,134.29L737.78,134.05L737.28,133.81L736.79,133.6L736.29,133.43L735.79,133.28L735.29,133.13L734.79,132.99L734.3,132.85L733.8,132.72L733.3,132.6L732.8,134.09L732.3,135.89L731.8,137.99L731.3,140.65L730.8,143.4L730.31,145.72L729.81,147.85L729.31,149.86L728.81,151.76L728.31,153.57L727.81,155.35L727.31,157.11L726.81,158.74L726.31,160.16L725.81,161.29L725.32,162.28L724.82,163.17L724.32,163.98L723.82,164.7L723.32,165.33L722.82,165.88L722.32,166.36L721.82,166.81L721.32,167.23L720.82,167.62L720.33,167.97L719.83,168.3L719.33,168.59L718.83,168.85L718.33,169.09L717.83,169.29L717.33,169.48L716.83,169.65L716.33,169.81L715.83,169.96L715.34,170.1L714.84,170.23L714.34,170.37L713.84,170.5L713.34,170.65L712.84,170.77L712.34,170.88L711.84,170.98L711.34,171.09L710.84,171.2L710.35,171.33L709.85,171.49L709.35,171.69L708.85,171.96L708.35,172.46L707.85,173.18L707.35,174.07L706.85,175.08L706.35,176.15L705.85,177.24L705.35,178.31L704.86,179.47L704.36,180.75L703.86,182.11L703.36,183.53L702.86,184.96L702.36,186.4L701.86,187.9L701.36,189.45L700.86,191L700.36,192.56L699.87,194.18L699.37,195.74L698.87,197.08L698.37,198.25L697.87,199.36L697.37,200.38L696.87,201.29L696.37,202.05L695.87,202.67L695.37,203.23L694.88,203.76L694.38,204.24L693.88,204.65L693.38,205L692.88,205.26L692.38,205.43L691.88,205.57L691.38,205.69L690.88,205.79L690.38,205.86L689.89,205.9L689.39,205.89L688.89,205.83L688.39,205.72L687.89,205.6L687.39,205.37L686.89,205.01L686.39,204.57L685.89,204.1L685.39,203.51L684.9,202.85L684.4,202.19L683.9,201.56L683.4,200.94L682.9,200.32L682.4,199.7L681.9,200.84L681.41,202.02L680.91,203.25L680.41,204.51L679.92,205.83L679.42,207.25L678.92,208.71L678.43,210.16L677.93,211.52L677.44,212.77L676.94,213.97L676.44,215.13L675.95,216.25L675.45,217.33L674.95,218.4L674.46,219.44L673.96,220.42L673.46,221.33L672.97,222.15L672.47,222.94L671.97,223.68L671.48,224.32L670.98,224.82L670.48,225.24L669.99,225.64L669.49,225.97L668.99,226.16L668.5,226.19L668,226.07L667.51,225.85L667.01,225.55L666.51,225.19L666.02,224.81L665.52,224.33L665.02,223.68L664.53,222.89L664.03,222.02L663.53,221.12L663.04,220.21L662.54,219.21L662.04,218.13L661.55,216.99L661.05,215.82L660.55,214.62L660.06,213.38L659.56,212.08L659.06,210.73L658.57,209.32L658.07,207.82L657.58,206.25L657.08,204.63L656.58,203L656.09,201.37L655.59,199.73L655.09,198.07L654.6,196.4L654.1,194.7L653.61,195.83L653.11,197.02L652.62,198.28L652.13,199.6L651.64,200.97L651.14,202.39L650.65,203.85L650.16,205.36L649.66,206.96L649.17,208.63L648.68,210.37L648.19,212.17L647.69,214.03L647.2,215.93Z" fill="#1f77b4" fill-opacity="0.6" stroke="none"/>
<path d="M651.5,187L656.5,192M651.5,192L656.5,187M680.2,193L685.2,198M680.2,198L685.2,193M705.9,159L710.9,164M705.9,164L710.9,159M731.9,126.9L736.9,131.9M731.9,131.9L736.9,126.9M757,88.8L762,93.8M757,93.8L762,88.8M782.5,106.15L787.5,111.15M782.5,111.15L787.5,106.15M808,182.3L813,187.3M808,187.3L813,182.3M833.8,152.6L838.8,157.6M833.8,157.6L838.8,152.6M859.1,193.9L864.1,198.9M859.1,198.9L864.1,193.9M884.9,182L889.9,187M884.9,187L889.9,182" fill="none" stroke="#000000" stroke-width="1.9" stroke-linecap="butt"/>
<path d="M647.2,160.78L647.7,162L648.2,163.23L648.7,164.46L649.2,165.71L649.7,166.97L650.2,168.23L650.7,169.51L651.2,170.8L651.7,172.1L652.2,173.41L652.7,174.73L653.2,176.06L653.7,177.4L654.2,176.53L654.69,175.67L655.19,174.81L655.69,173.96L656.18,173.11L656.68,172.27L657.18,171.43L657.67,170.55L658.17,169.65L658.66,168.77L659.16,167.91L659.66,167.12L660.15,166.42L660.65,165.83L661.15,165.26L661.64,164.71L662.14,164.21L662.64,163.77L663.13,163.43L663.63,163.22L664.13,163.1L664.62,163L665.12,162.91L665.62,162.84L666.11,162.81L666.61,162.81L667.11,162.91L667.6,163.12L668.1,163.42L668.59,163.77L669.09,164.15L669.59,164.55L670.08,164.99L670.58,165.54L671.08,166.17L671.57,166.88L672.07,167.64L672.57,168.42L673.06,169.22L673.56,170.03L674.06,170.91L674.55,171.86L675.05,172.84L675.55,173.84L676.04,174.83L676.54,175.77L677.04,176.65L677.53,177.5L678.03,178.35L678.52,179.17L679.02,179.96L679.52,180.68L680.01,181.34L680.51,181.91L681.01,182.43L681.5,182.89L682,183.3L682.49,182.49L682.99,181.62L683.48,180.71L683.98,179.75L684.47,178.74L684.97,177.68L685.46,176.56L685.95,175.4L686.45,174.19L686.94,172.94L687.44,171.64L687.93,170.27L688.43,168.84L688.92,167.39L689.42,165.93L689.91,164.49L690.4,162.99L690.9,161.47L691.39,159.96L691.89,158.51L692.38,157.16L692.88,155.89L693.37,154.63L693.86,153.45L694.36,152.44L694.85,151.66L695.35,150.98L695.84,150.38L696.34,149.89L696.83,149.56L697.32,149.41L697.82,149.28L698.31,149.17L698.81,149.09L699.3,149.03L699.8,149L700.29,149L700.78,149.02L701.28,149.05L701.77,149.09L702.27,149.13L702.76,149.18L703.26,149.23L703.75,149.3L704.25,149.39L704.74,149.48L705.23,149.56L705.73,149.63L706.22,149.69L706.72,149.75L707.21,149.8L707.71,149.85L708.2,149.9L708.69,149.01L709.18,148.04L709.67,147.02L710.17,145.93L710.66,144.79L711.15,143.6L711.64,142.37L712.13,141.08L712.62,139.63L713.11,138.08L713.61,136.49L714.1,134.95L714.59,133.53L715.08,132.26L715.57,131.06L716.06,129.88L716.56,128.65L717.05,127.35L717.54,126.03L718.03,124.76L718.52,123.59L719.01,122.57L719.5,121.59L720,120.65L720.49,119.8L720.98,119.08L721.47,118.53L721.96,118.09L722.45,117.67L722.94,117.31L723.44,117.02L723.93,116.84L724.42,116.8L724.91,116.86L725.4,116.98L725.89,117.15L726.39,117.35L726.88,117.57L727.37,117.79L727.86,117.98L728.35,118.17L728.84,118.36L729.33,118.56L729.83,118.76L730.32,118.97L730.81,119.18L731.3,119.4L731.8,119.23L732.3,118.91L732.8,118.46L733.3,117.92L733.8,117.3L734.3,116.65L734.8,115.83L735.3,114.77L735.8,113.52L736.3,112.19L736.8,110.83L737.3,109.49L737.8,108.07L738.3,106.58L738.8,105.05L739.3,103.51L739.8,102L740.3,100.52L740.8,99.04L741.3,97.54L741.8,96L742.3,94.36L742.8,92.62L743.3,90.89L743.8,89.26L744.3,87.83L744.8,86.5L745.3,85.22L745.8,84.03L746.3,82.96L746.8,82.03L747.3,81.22L747.8,80.41L748.3,79.64L748.8,79.02L749.3,78.61L749.8,78.5L750.3,78.51L750.8,78.52L751.3,78.54L751.8,78.56L752.3,78.59L752.8,78.64L753.3,78.72L753.8,78.82L754.3,78.95L754.8,79.08L755.3,79.23L755.8,79.37L756.3,79.52L756.8,79.71L757.3,79.97L757.8,80.32L758.3,81.15L758.8,82.65L759.3,81.72L759.8,80.75L760.3,79.74L760.79,78.69L761.29,77.57L761.79,76.39L762.29,75.19L762.79,74L763.29,72.85L763.79,71.73L764.28,70.58L764.78,69.45L765.28,68.39L765.78,67.43L766.28,66.62L766.78,65.86L767.28,65.14L767.77,64.5L768.27,63.96L768.77,63.57L769.27,63.31L769.77,63.08L770.27,62.9L770.77,62.78L771.26,62.75L771.76,62.86L772.26,63.09L772.76,63.41L773.26,63.79L773.76,64.26L774.26,64.99L774.75,65.92L775.25,66.99L775.75,68.12L776.25,69.41L776.75,70.93L777.25,72.6L777.75,74.37L778.24,76.23L778.74,78.33L779.24,80.59L779.74,82.9L780.24,85.12L780.74,87.14L781.24,88.98L781.73,90.72L782.23,92.4L782.73,94.02L783.23,95.59L783.73,97.16L784.23,98.68L784.72,100.12L785.22,101.41L785.72,102.55L786.22,103.59L786.72,104.57L787.22,105.52L787.72,106.46L788.21,107.41L788.71,108.33L789.21,109.22L789.71,110.12L790.21,111.04L790.71,112.02L791.21,113.04L791.7,114.09L792.2,115.18L792.7,116.32L793.2,117.51L793.7,118.79L794.2,120.26L794.7,121.8L795.19,123.25L795.69,124.49L796.19,125.4L796.69,126.16L797.19,127.03L797.69,128.29L798.19,130.07L798.68,132.24L799.18,134.64L799.68,137.14L800.18,139.59L800.68,141.84L801.18,144L801.68,146.16L802.17,148.32L802.67,150.46L803.17,152.59L803.67,154.69L804.17,156.75L804.67,158.77L805.17,160.86L805.66,163.07L806.16,165.24L806.66,167.19L807.16,168.75L807.66,169.78L808.16,170.64L808.66,171.42L809.15,172.1L809.65,172.63L810.15,172.98L810.65,173.1L811.14,172.27L811.63,171.36L812.12,170.36L812.62,169.31L813.11,168.19L813.6,167.01L814.09,165.69L814.58,164.28L815.07,162.86L815.56,161.48L816.05,160.08L816.55,158.66L817.04,157.25L817.53,155.87L818.02,154.52L818.51,153.23L819,152L819.49,150.76L819.99,149.51L820.48,148.3L820.97,147.15L821.46,146.09L821.95,145.16L822.44,144.38L822.93,143.72L823.42,143.09L823.92,142.5L824.41,141.97L824.9,141.5L825.39,141.1L825.88,140.79L826.37,140.57L826.86,140.4L827.36,140.25L827.85,140.11L828.34,140L828.83,139.93L829.32,139.9L829.81,139.95L830.3,140.11L830.8,140.36L831.29,140.68L831.78,141.03L832.27,141.39L832.76,141.74L833.25,142.07L833.74,142.43L834.23,142.8L834.73,143.2L835.22,143.62L835.71,144.05L836.2,144.5L836.7,143.93L837.19,143.39L837.69,142.89L838.18,142.43L838.68,142.01L839.18,141.64L839.67,141.32L840.17,141.04L840.67,140.82L841.16,140.62L841.66,140.44L842.15,140.3L842.65,140.21L843.15,140.22L843.64,140.36L844.14,140.61L844.64,140.95L845.13,141.35L845.63,141.78L846.12,142.22L846.62,142.72L847.12,143.32L847.61,144.01L848.11,144.77L848.61,145.59L849.1,146.45L849.6,147.35L850.09,148.35L850.59,149.45L851.09,150.63L851.58,151.87L852.08,153.15L852.58,154.5L853.07,155.95L853.57,157.47L854.06,159.04L854.56,160.63L855.06,162.23L855.55,163.91L856.05,165.63L856.55,167.35L857.04,169.02L857.54,170.62L858.03,172.15L858.53,173.66L859.03,175.12L859.52,176.53L860.02,177.87L860.52,179.14L861.01,180.34L861.51,181.49L862,182.58L862.5,183.6L863,183L863.5,182.34L863.99,181.64L864.49,180.89L864.99,180.08L865.49,179.17L865.99,178.18L866.48,177.15L866.98,176.15L867.48,175.21L867.98,174.35L868.48,173.52L868.97,172.71L869.47,171.95L869.97,171.24L870.47,170.58L870.97,169.94L871.46,169.32L871.96,168.75L872.46,168.27L872.96,167.92L873.46,167.67L873.95,167.43L874.45,167.22L874.95,167.03L875.45,166.88L875.95,166.77L876.44,166.71L876.94,166.71L877.44,166.77L877.94,166.88L878.44,167.04L878.93,167.23L879.43,167.45L879.93,167.69L880.43,167.94L880.93,168.3L881.42,168.77L881.92,169.32L882.42,169.88L882.92,170.42L883.42,170.9L883.91,171.37L884.41,171.83L884.91,172.29L885.41,172.75L885.91,173.19L886.4,173.64L886.9,174.07L887.4,174.5L887.9,172.88L888.4,171.27L888.9,169.68L889.4,168.1L889.9,166.53L890.4,164.98L890.9,163.44L891.4,161.92L891.9,160.41L892.4,158.9L892.9,157.4L893.4,155.9L893.9,154.41L894.4,152.92L894.9,151.43L895.4,149.94L895.9,148.45L896.4,146.95L896.9,145.44L897.4,143.94L897.9,142.45L898.4,141L898.9,139.58L899.4,138.18L899.9,136.81L900.4,135.46L900.9,134.13L900.9,231.6L900.41,230.27L899.92,228.94L899.43,227.6L898.94,226.29L898.45,224.98L897.96,223.66L897.46,222.34L896.97,220.99L896.48,219.6L895.99,218.2L895.5,216.77L895.01,215.32L894.52,213.86L894.03,212.39L893.54,210.89L893.05,209.36L892.56,207.82L892.07,206.29L891.58,204.81L891.09,203.41L890.59,202.18L890.1,201.04L889.61,199.85L889.12,198.49L888.63,196.82L888.14,194.43L887.65,191.4L887.16,193.51L886.66,195.51L886.17,197.35L885.68,198.99L885.18,200.47L884.69,201.83L884.2,203.12L883.7,204.37L883.21,205.62L882.72,206.89L882.22,208.15L881.73,209.41L881.24,210.65L880.74,211.86L880.25,213.05L879.76,214.19L879.26,215.3L878.77,216.46L878.28,217.64L877.78,218.8L877.29,219.9L876.8,220.87L876.3,221.69L875.81,222.29L875.32,222.75L874.83,223.2L874.33,223.61L873.84,223.97L873.35,224.26L872.85,224.47L872.36,224.58L871.87,224.58L871.37,224.42L870.88,224.12L870.39,223.7L869.89,223.18L869.4,222.59L868.91,221.95L868.41,221.27L867.92,220.33L867.43,219.05L866.93,217.53L866.44,215.86L865.95,214.15L865.45,212.48L864.96,210.95L864.47,209.59L863.97,208.28L863.48,206.99L862.99,205.73L862.49,204.5L862,203.3L861.51,203.9L861.02,204.47L860.52,204.99L860.03,205.43L859.54,205.79L859.05,206.06L858.55,206.32L858.06,206.56L857.57,206.78L857.08,206.96L856.58,207.09L856.09,207.18L855.6,207.2L855.11,207.08L854.62,206.82L854.12,206.42L853.63,205.91L853.14,205.31L852.65,204.63L852.15,203.89L851.66,203.11L851.17,202.31L850.68,201.34L850.18,200.04L849.69,198.61L849.2,197.23L848.71,195.91L848.22,194.56L847.72,193.16L847.23,191.66L846.74,189.99L846.25,188.31L845.75,186.79L845.26,185.49L844.77,184.3L844.28,183.17L843.78,182.11L843.29,181.09L842.8,180.1L842.31,179.12L841.82,178.13L841.32,177.19L840.83,176.28L840.34,175.38L839.85,174.47L839.35,173.55L838.86,172.63L838.37,171.7L837.88,170.78L837.38,169.85L836.89,168.93L836.4,168L835.9,168.06L835.4,168.23L834.9,168.49L834.4,168.82L833.9,169.19L833.4,169.58L832.9,170.1L832.41,170.79L831.91,171.62L831.41,172.55L830.91,173.57L830.41,174.67L829.91,176.03L829.41,177.59L828.91,179.25L828.41,180.95L827.91,182.59L827.41,184.27L826.91,186.02L826.41,187.77L825.91,189.47L825.41,191.06L824.92,192.54L824.42,194L823.92,195.41L823.42,196.72L822.92,197.88L822.42,198.84L821.92,199.69L821.42,200.47L820.92,201.16L820.42,201.76L819.92,202.25L819.42,202.66L818.92,203.04L818.42,203.31L817.92,203.4L817.42,203.26L816.93,202.96L816.43,202.55L815.93,202.11L815.43,201.67L814.93,201.3L814.43,200.91L813.93,200.5L813.43,200.08L812.93,199.67L812.43,199.28L811.93,198.92L811.43,198.6L810.93,198.29L810.43,197.99L809.93,197.71L809.44,197.45L808.94,197.2L808.44,196.98L807.94,196.78L807.44,196.62L806.94,196.49L806.44,196.38L805.94,196.24L805.44,196.06L804.94,195.8L804.44,195.36L803.94,194.76L803.44,194.05L802.94,193.24L802.44,192.38L801.95,191.41L801.45,190.25L800.95,188.92L800.45,187.44L799.95,185.84L799.45,184.08L798.95,181.97L798.45,179.59L797.95,177.09L797.45,174.61L796.95,172.29L796.45,170.1L795.95,167.96L795.45,165.85L794.95,163.76L794.46,161.66L793.96,159.56L793.46,157.44L792.96,155.32L792.46,153.19L791.96,151.07L791.46,148.95L790.96,146.83L790.46,144.71L789.96,142.6L789.46,140.48L788.96,138.27L788.46,136.01L787.96,133.75L787.46,131.55L786.97,129.47L786.47,127.57L785.97,125.9L785.47,124.41L784.97,123.05L784.47,121.82L783.97,120.74L783.47,119.72L782.97,118.77L782.47,118.29L781.97,118.14L781.47,118.01L780.97,117.9L780.47,117.82L779.97,117.75L779.48,117.69L778.98,117.65L778.48,117.6L777.98,117.56L777.48,117.53L776.98,117.5L776.48,117.47L775.98,117.45L775.48,117.43L774.98,117.41L774.48,117.39L773.98,117.36L773.48,117.32L772.98,117.26L772.48,117.14L771.98,116.97L771.49,116.75L770.99,116.5L770.49,116.21L769.99,115.89L769.49,115.44L768.99,114.8L768.49,114.08L767.99,113.36L767.49,112.68L766.99,111.97L766.49,111.25L765.99,110.58L765.49,109.99L764.99,109.53L764.49,109.14L764,108.75L763.5,108.31L763,107.75L762.5,107.1L762,106.36L761.5,105.54L761,104.65L760.5,103.7L760,104.49L759.51,105.35L759.01,106.26L758.52,107.23L758.02,108.24L757.52,109.29L757.03,110.4L756.53,111.58L756.03,112.85L755.54,114.24L755.04,115.88L754.55,117.72L754.05,119.51L753.55,121.09L753.06,122.57L752.56,123.98L752.06,125.33L751.57,126.64L751.07,127.93L750.58,129.18L750.08,130.32L749.58,131.34L749.09,132.24L748.59,133.07L748.09,133.85L747.6,134.58L747.1,135.27L746.61,135.92L746.11,136.55L745.61,137.14L745.12,137.76L744.62,138.4L744.12,138.99L743.63,139.48L743.13,139.81L742.64,139.97L742.14,140.08L741.64,140.17L741.15,140.24L740.65,140.29L740.15,140.3L739.66,140.26L739.16,140.15L738.67,139.98L738.17,139.78L737.67,139.56L737.18,139.32L736.68,139.08L736.18,138.85L735.69,138.58L735.19,138.27L734.7,137.95L734.2,137.6L733.7,138.74L733.2,140.22L732.71,142.25L732.21,144.47L731.71,146.36L731.21,148.09L730.71,149.73L730.22,151.32L729.72,152.88L729.22,154.44L728.72,156.06L728.22,157.74L727.73,159.38L727.23,160.9L726.73,162.2L726.23,163.24L725.73,164.18L725.23,165.06L724.74,165.86L724.24,166.58L723.74,167.22L723.24,167.78L722.74,168.25L722.25,168.66L721.75,169.03L721.25,169.38L720.75,169.7L720.25,169.98L719.76,170.25L719.26,170.49L718.76,170.71L718.26,170.92L717.76,171.1L717.27,171.28L716.77,171.44L716.27,171.59L715.77,171.73L715.27,171.86L714.77,171.99L714.28,172.11L713.78,172.23L713.28,172.35L712.78,172.45L712.28,172.52L711.79,172.59L711.29,172.66L710.79,172.74L710.29,172.84L709.79,172.97L709.3,173.13L708.8,173.41L708.3,174.11L707.8,175.14L707.3,176.38L706.81,177.7L706.31,179.02L705.81,180.53L705.31,182.24L704.81,184.07L704.32,185.94L703.82,187.99L703.32,189.93L702.82,191.56L702.32,193.05L701.83,194.47L701.33,195.86L700.83,197.22L700.33,198.54L699.83,199.8L699.33,201.02L698.84,202.21L698.34,203.4L697.84,204.52L697.34,205.52L696.84,206.34L696.35,207.06L695.85,207.72L695.35,208.31L694.85,208.83L694.35,209.26L693.86,209.64L693.36,210.02L692.86,210.36L692.36,210.63L691.86,210.78L691.37,210.79L690.87,210.75L690.37,210.66L689.87,210.54L689.37,210.39L688.88,210.23L688.38,210L687.88,209.65L687.38,209.21L686.88,208.72L686.38,208.2L685.89,207.68L685.39,207.12L684.89,206.5L684.39,205.81L683.89,205.03L683.4,204.12L682.9,203.1L682.4,202L681.9,203.26L681.41,204.54L680.91,205.85L680.41,207.18L679.92,208.54L679.42,209.97L678.92,211.43L678.43,212.86L677.93,214.22L677.44,215.49L676.94,216.72L676.44,217.91L675.95,219.04L675.45,220.12L674.95,221.18L674.46,222.19L673.96,223.15L673.46,224.03L672.97,224.84L672.47,225.64L671.97,226.38L671.48,227.02L670.98,227.52L670.48,227.94L669.99,228.34L669.49,228.67L668.99,228.86L668.5,228.89L668,228.77L667.51,228.55L667.01,228.25L666.51,227.89L666.02,227.51L665.52,227.03L665.02,226.36L664.53,225.56L664.03,224.69L663.53,223.81L663.04,222.94L662.54,222.03L662.04,221.07L661.55,220.06L661.05,219.01L660.55,217.9L660.06,216.73L659.56,215.51L659.06,214.28L658.57,213.08L658.07,211.88L657.58,210.68L657.08,209.49L656.58,208.32L656.09,207.19L655.59,206.08L655.09,205L654.6,203.94L654.1,202.9L653.61,203.53L653.11,204.23L652.62,204.99L652.13,205.8L651.64,206.66L651.14,207.57L650.65,208.51L650.16,209.49L649.66,210.56L649.17,211.71L648.68,212.93L648.19,214.2L647.69,215.52L647.2,216.88Z" fill="#ff7f0e" fill-opacity="0.3" stroke="none"/>
<path d="M647.2,187.28L648.2,187.33L649.2,187.4L650.2,187.49L651.2,187.59L652.2,187.72L653.2,187.86L654.2,188.01L655.2,188.17L656.2,188.34L657.2,188.52L658.2,188.71L659.2,188.9L660.2,189.12L661.2,189.37L662.2,189.65L663.2,189.94L664.2,190.26L665.2,190.59L666.2,190.93L667.2,191.29L668.2,191.65L669.2,192.09L670.2,192.59L671.2,193.1L672.2,193.58L673.2,194L674.2,194.3L675.2,194.54L676.2,194.76L677.2,194.96L678.2,195.11L679.2,195.19L680.2,195.18L681.2,195.01L682.2,194.71L683.2,194.32L684.2,193.79L685.2,192.88L686.2,191.72L687.2,190.45L688.2,189.11L689.2,187.53L690.2,185.79L691.2,183.96L692.2,182.12L693.2,180.35L694.2,178.73L695.2,177.16L696.2,175.62L697.2,174.12L698.2,172.66L699.2,171.27L700.2,169.93L701.2,168.63L702.2,167.37L703.2,166.17L704.2,165.03L705.2,163.99L706.2,163.06L707.2,162.16L708.2,161.2L709.2,160.14L710.2,159L711.2,157.81L712.2,156.61L713.2,155.42L714.2,154.24L715.2,153.07L716.2,151.89L717.2,150.71L718.2,149.52L719.2,148.33L720.2,147.13L721.2,145.93L722.2,144.73L723.2,143.52L724.2,142.31L725.2,141.1L726.2,139.88L727.2,138.65L728.2,137.42L729.2,136.21L730.2,134.99L731.2,133.77L732.2,132.51L733.2,131.22L734.2,129.88L735.2,128.48L736.2,127.04L737.2,125.56L738.2,124.05L739.2,122.49L740.2,120.89L741.2,119.25L742.2,117.56L743.2,115.83L744.2,114.04L745.2,112.17L746.2,110.23L747.2,108.23L748.2,106.16L749.2,104.02L750.2,101.81L751.2,99.29L752.2,97.12L753.2,95.41L754.2,93.92L755.2,92.69L756.2,91.74L757.2,90.84L758.2,90.15L759.2,89.86L760.2,89.87L761.2,89.89L762.2,89.92L763.2,89.96L764.2,90.03L765.2,90.29L766.2,90.72L767.2,91.24L768.2,91.84L769.2,92.64L770.2,93.59L771.2,94.6L772.2,95.82L773.2,97.19L774.2,98.47L775.2,99.48L776.2,100.34L777.2,101.18L778.2,102.08L779.2,103.06L780.2,104.06L781.2,105.09L782.2,106.1L783.2,107.08L784.2,108.14L785.2,109.37L786.2,110.86L787.2,112.58L788.2,114.5L789.2,116.77L790.2,119.26L791.2,121.68L792.2,124.05L793.2,126.99L794.2,130.97L795.2,135.57L796.2,140.19L797.2,144.52L798.2,148.89L799.2,153.18L800.2,157.21L801.2,160.91L802.2,164.49L803.2,167.76L804.2,170.47L805.2,172.36L806.2,174.4L807.2,176.8L808.2,179.1L809.2,181.19L810.2,182.99L811.2,183.66L812.2,183.97L813.2,183.86L814.2,183.13L815.2,181.96L816.2,180.59L817.2,179.23L818.2,177.67L819.2,175.86L820.2,174L821.2,172.23L822.2,170.49L823.2,168.72L824.2,166.89L825.2,164.89L826.2,162.93L827.2,161.02L828.2,159.19L829.2,157.7L830.2,156.68L831.2,155.84L832.2,155.21L833.2,154.85L834.2,154.63L835.2,154.47L836.2,154.4L837.2,154.51L838.2,154.82L839.2,155.26L840.2,155.87L841.2,156.86L842.2,158.11L843.2,159.73L844.2,161.55L845.2,163.45L846.2,165.53L847.2,167.75L848.2,170.08L849.2,172.62L850.2,174.91L851.2,177.07L852.2,179.15L853.2,181.21L854.2,183.33L855.2,185.43L856.2,187.37L857.2,189.04L858.2,190.59L859.2,191.99L860.2,193.16L861.2,194.02L862.2,194.8L863.2,195.46L864.2,195.87L865.2,195.95L866.2,195.93L867.2,195.88L868.2,195.82L869.2,195.59L870.2,194.91L871.2,193.99L872.2,193.12L873.2,192.28L874.2,191.38L875.2,190.5L876.2,189.68L877.2,188.87L878.2,188.11L879.2,187.42L880.2,186.84L881.2,186.31L882.2,185.84L883.2,185.41L884.2,185.01L885.2,184.63L886.2,184.29L887.2,184L888.2,183.78L889.2,183.57L890.2,183.38L891.2,183.25L892.2,183.2L893.2,183.22L894.2,183.26L895.2,183.31L896.2,183.34L897.2,183.35L898.2,183.35L899.2,183.35L900.9,183.35" fill="none" stroke="#1f77b4" stroke-width="2.05" stroke-linejoin="round" stroke-linecap="square"/>
<path d="M647.2,189.14L648.2,189.27L649.2,189.42L650.2,189.58L651.2,189.76L652.2,189.96L653.2,190.17L654.2,190.39L655.2,190.62L656.2,190.86L657.2,191.11L658.2,191.37L659.2,191.64L660.2,191.95L661.2,192.31L662.2,192.68L663.2,193.07L664.2,193.47L665.2,193.85L666.2,194.21L667.2,194.53L668.2,194.81L669.2,195.09L670.2,195.38L671.2,195.66L672.2,195.9L673.2,196.1L674.2,196.24L675.2,196.31L676.2,196.34L677.2,196.37L678.2,196.39L679.2,196.4L680.2,196.34L681.2,196.07L682.2,195.64L683.2,195.13L684.2,194.59L685.2,193.89L686.2,193L687.2,191.98L688.2,190.88L689.2,189.75L690.2,188.62L691.2,187.4L692.2,186.11L693.2,184.77L694.2,183.39L695.2,182L696.2,180.57L697.2,179.08L698.2,177.56L699.2,176.05L700.2,174.56L701.2,173.15L702.2,171.86L703.2,170.64L704.2,169.38L705.2,168L706.2,166.4L707.2,164.18L708.2,161.86L709.2,160.24L710.2,158.88L711.2,157.66L712.2,156.51L713.2,155.32L714.2,154.1L715.2,152.9L716.2,151.72L717.2,150.54L718.2,149.36L719.2,148.16L720.2,146.96L721.2,145.76L722.2,144.56L723.2,143.35L724.2,142.14L725.2,140.93L726.2,139.71L727.2,138.49L728.2,137.27L729.2,136.07L730.2,134.87L731.2,133.67L732.2,132.43L733.2,131.16L734.2,129.82L735.2,128.4L736.2,126.9L737.2,125.34L738.2,123.72L739.2,122.06L740.2,120.38L741.2,118.68L742.2,116.98L743.2,115.3L744.2,113.64L745.2,111.97L746.2,110.3L747.2,108.61L748.2,106.9L749.2,105.15L750.2,103.35L751.2,101.35L752.2,99.35L753.2,97.6L754.2,96.22L755.2,95.01L756.2,93.94L757.2,92.98L758.2,92.1L759.2,91.26L760.2,90.53L761.2,89.93L762.2,89.43L763.2,88.95L764.2,88.55L765.2,88.28L766.2,88.2L767.2,88.24L768.2,88.32L769.2,88.43L770.2,88.61L771.2,89.01L772.2,89.58L773.2,90.23L774.2,91L775.2,91.98L776.2,93.09L777.2,94.31L778.2,95.71L779.2,97.24L780.2,98.85L781.2,100.56L782.2,102.41L783.2,104.42L784.2,106.63L785.2,109.21L786.2,112.37L787.2,115.63L788.2,118.69L789.2,121.95L790.2,125.88L791.2,129.82L792.2,133.6L793.2,137.34L794.2,141.12L795.2,145.01L796.2,149L797.2,152.95L798.2,156.75L799.2,160.28L800.2,163.6L801.2,166.77L802.2,169.81L803.2,172.71L804.2,175.2L805.2,177.53L806.2,179.57L807.2,181.19L808.2,182.58L809.2,183.73L810.2,184.5L811.2,185L812.2,185.36L813.2,185.42L814.2,184.92L815.2,184.07L816.2,183.05L817.2,181.56L818.2,179.81L819.2,178.1L820.2,176.35L821.2,174.55L822.2,172.74L823.2,170.95L824.2,169.16L825.2,167.37L826.2,165.59L827.2,163.75L828.2,161.92L829.2,160.26L830.2,158.84L831.2,157.49L832.2,156.32L833.2,155.51L834.2,154.98L835.2,154.55L836.2,154.31L837.2,154.41L838.2,154.86L839.2,155.53L840.2,156.36L841.2,157.69L842.2,159.37L843.2,161.14L844.2,162.91L845.2,164.83L846.2,166.85L847.2,168.91L848.2,171.04L849.2,173.24L850.2,175.48L851.2,177.76L852.2,180.09L853.2,182.56L854.2,185.19L855.2,187.63L856.2,189.55L857.2,191.2L858.2,192.65L859.2,193.92L860.2,195.08L861.2,196.16L862.2,197.06L863.2,197.71L864.2,198.25L865.2,198.7L866.2,198.97L867.2,198.99L868.2,198.94L869.2,198.84L870.2,198.71L871.2,198.4L872.2,197.77L873.2,196.98L874.2,196.21L875.2,195.4L876.2,194.51L877.2,193.57L878.2,192.6L879.2,191.58L880.2,190.46L881.2,189.31L882.2,188.2L883.2,187.21L884.2,186.27L885.2,185.37L886.2,184.55L887.2,183.86L888.2,183.31L889.2,182.8L890.2,182.35L891.2,182L892.2,181.8L893.2,181.69L894.2,181.61L895.2,181.54L896.2,181.51L897.2,181.51L898.2,181.56L899.2,181.66L900.9,181.91" fill="none" stroke="#ff7f0e" stroke-width="2.05" stroke-linejoin="round" stroke-linecap="square"/>
</g>
<rect x="647.7" y="54.6" width="252.65" height="183.75" fill="none" stroke="#111111" stroke-width="1.09" stroke-linejoin="miter"/>
<g clip-path="url(#c10)">
<path d="M101.86,383.7L106.86,388.7M101.86,388.7L106.86,383.7M140.21,331.2L145.21,336.2M140.21,336.2L145.21,331.2M191.35,271.9L196.35,276.9M191.35,276.9L196.35,271.9M226.51,372.9L231.51,377.9M226.51,377.9L231.51,372.9M261.67,357.2L266.67,362.2M261.67,362.2L266.67,357.2M296.83,384.4L301.83,389.4M296.83,389.4L301.83,384.4" fill="none" stroke="#000000" stroke-width="1.9" stroke-linecap="butt"/>
<path d="M69.2,262.5L72.4,265.7L75.59,267.1L78.79,272.5L81.98,273.5L85.18,275.9L88.38,274.8L91.57,273.7L94.77,275.6L97.97,276.2L101.16,274.4L104.36,386.2L107.55,275.3L110.75,273.6L113.95,273.6L117.14,276.8L120.34,277.1L123.54,273L126.73,276L129.93,278.5L133.12,276.65L136.32,275.1L139.52,275.1L142.71,333.7L145.91,273.2L149.11,277.1L152.3,275L155.5,275.9L158.69,276.8L161.89,275.9L165.09,275L168.28,276.2L171.48,276.2L174.67,276.2L177.87,276.2L181.07,278L184.26,276.5L187.46,275.7L190.66,277.4L193.85,274.4L197.05,274.4L200.24,274.8L203.44,272.8L206.64,277.1L209.83,274.1L213.03,273.7L216.23,273.9L219.42,274.1L222.62,274.8L225.81,275.7L229.01,375.4L232.21,273.2L235.4,275.9L238.6,278.75L241.79,277.1L244.99,275.7L248.19,275.6L251.38,275.6L254.58,276.65L257.78,270.4L260.97,272.3L264.17,359.7L267.36,271.4L270.56,272.8L273.76,271.9L276.95,273.9L280.15,272.1L283.35,271.2L286.54,273.5L289.74,273.9L292.93,277.2L296.13,277.9L299.33,386.9L302.52,277.2L305.72,277.8L308.92,277.75L312.11,275.7L315.31,273L318.5,270.7L321.7,264.8L321.7,424.6L318.5,419.1L315.31,417.7L312.11,416.8L308.92,416.1L305.72,424L302.52,416.1L299.33,386.9L296.13,414.8L292.93,422.9L289.74,422.5L286.54,414.8L283.35,419.2L280.15,428.2L276.95,422.8L273.76,417.6L270.56,423.7L267.36,424.9L264.17,359.7L260.97,415.5L257.78,423.9L254.58,423.4L251.38,417.9L248.19,424L244.99,417L241.79,417.55L238.6,416.6L235.4,415.9L232.21,421.4L229.01,375.4L225.81,419.1L222.62,415L219.42,424.6L216.23,415.7L213.03,416.4L209.83,422.3L206.64,417.55L203.44,420.9L200.24,417L197.05,423.2L193.85,274.4L190.66,415.5L187.46,415.2L184.26,422.3L181.07,418.5L177.87,413.4L174.67,420.9L171.48,423.9L168.28,416.8L165.09,423.7L161.89,417.3L158.69,422.3L155.5,413.4L152.3,417.55L149.11,422.1L145.91,421.6L142.71,333.7L139.52,417.9L136.32,415L133.12,420.9L129.93,416.8L126.73,419L123.54,415.2L120.34,421.85L117.14,421.85L113.95,416.8L110.75,420L107.55,423.2L104.36,386.2L101.16,417.9L97.97,421.6L94.77,416.6L91.57,424.6L88.38,424.6L85.18,422.8L81.98,417.9L78.79,420.9L75.59,420.3L72.4,421.4L69.2,425.5Z" fill="#1f77b4" fill-opacity="0.6" stroke="none"/>
<path d="M69.2,367.45L72.4,367.9L75.59,364.3L78.79,367.2L81.98,367.9L85.18,369.9L88.38,367.9L91.57,368.8L94.77,365.9L97.97,367.9L101.16,367L104.36,386.2L107.55,370.5L110.75,367.7L113.95,366.8L117.14,370.65L120.34,367.9L123.54,365.9L126.73,367.7L129.93,367.1L133.12,369.7L136.32,368.4L139.52,367.7L142.71,333.7L145.91,369.3L149.11,369.9L152.3,368.4L155.5,367.7L158.69,370.5L161.89,367.7L165.09,368.8L168.28,368.4L171.48,371.1L174.67,369.3L177.87,367.45L181.07,368.6L184.26,367.9L187.46,367.7L190.66,367.7L193.85,274.4L197.05,367.9L200.24,367.9L203.44,367L206.64,368.4L209.83,369.7L213.03,366.3L216.23,367.45L219.42,369.55L222.62,367.2L225.81,370.8L229.01,375.4L232.21,370.5L235.4,366.5L238.6,367.9L241.79,367.7L244.99,368.1L248.19,368.6L251.38,366.8L254.58,369.9L257.78,367.9L260.97,367.9L264.17,359.7L267.36,367.9L270.56,367.9L273.76,365.9L276.95,369.55L280.15,369.55L283.35,365.9L286.54,367.2L289.74,368.8L292.93,370.2L296.13,367.9L299.33,386.9L302.52,368L305.72,368.4L308.92,367.3L312.11,367.7L315.31,366.1L318.5,367.2L321.7,367.7" fill="none" stroke="#1f77b4" stroke-width="2.05" stroke-linejoin="round" stroke-linecap="square"/>
</g>
<rect x="69.2" y="253.5" width="252.65" height="183.75" fill="none" stroke="#111111" stroke-width="1.09" stroke-linejoin="miter"/>
<path d="M69.2,437.25v4.77M119.73,437.25v4.77M170.26,437.25v4.77M220.79,437.25v4.77M271.32,437.25v4.77M321.85,437.25v4.77M69.2,389h-4.77M69.2,338.15h-4.77M69.2,287.3h-4.77" fill="none" stroke="#000000" stroke-width="1.09"/>
<text x="69.2" y="457" font-size="13.75" text-anchor="middle">0.0</text>
<text x="119.73" y="457" font-size="13.75" text-anchor="middle">0.2</text>
<text x="170.26" y="457" font-size="13.75" text-anchor="middle">0.4</text>
<text x="220.79" y="457" font-size="13.75" text-anchor="middle">0.6</text>
<text x="271.32" y="457" font-size="13.75" text-anchor="middle">0.8</text>
<text x="321.85" y="457" font-size="13.75" text-anchor="middle">1.0</text>
<text x="59.7" y="394" font-size="13.75" text-anchor="end">0</text>
<text x="59.7" y="343.15" font-size="13.75" text-anchor="end">1</text>
<text x="59.7" y="292.3" font-size="13.75" text-anchor="end">2</text>
<g clip-path="url(#c11)">
<path d="M390.9,367.05L395.9,372.05M390.9,372.05L395.9,367.05M429.25,324.8L434.25,329.8M429.25,329.8L434.25,324.8M479.9,277.6L484.9,282.6M479.9,282.6L484.9,277.6M516,357.35L521,362.35M516,362.35L521,357.35M551.05,345.8L556.05,350.8M551.05,350.8L556.05,345.8M586.05,367.4L591.05,372.4M586.05,372.4L591.05,367.4" fill="none" stroke="#000000" stroke-width="1.9" stroke-linecap="butt"/>
<path d="M358,302.87L358.5,303.3L359,303.73L359.5,304.18L359.99,304.64L360.49,305.1L360.99,305.58L361.49,306.06L361.99,306.56L362.49,307.06L362.99,307.57L363.48,308.09L363.98,308.63L364.48,309.19L364.98,309.76L365.48,310.33L365.98,310.92L366.48,311.52L366.97,312.11L367.47,312.71L367.97,313.31L368.47,313.91L368.97,314.5L369.47,315.07L369.97,315.62L370.46,316.17L370.96,316.72L371.46,317.29L371.96,317.89L372.46,318.52L372.96,319.2L373.46,319.94L373.95,320.76L374.45,321.65L374.95,322.61L375.45,323.62L375.95,324.67L376.45,325.74L376.95,326.83L377.45,327.92L377.94,328.99L378.44,330.07L378.94,331.15L379.44,332.25L379.94,333.36L380.44,334.48L380.94,335.63L381.43,336.79L381.93,337.98L382.43,339.18L382.93,340.41L383.43,341.67L383.93,342.97L384.43,344.32L384.92,345.71L385.42,347.12L385.92,348.57L386.42,350.02L386.92,351.49L387.42,352.95L387.92,354.4L388.41,355.83L388.91,357.24L389.41,358.62L389.91,360.01L390.41,361.38L390.91,362.76L391.41,364.12L391.9,365.49L392.4,366.85L392.9,368.2L393.4,369.55L393.9,367.42L394.4,365.32L394.89,363.24L395.39,361.19L395.89,359.17L396.39,357.18L396.89,355.23L397.38,353.3L397.88,351.39L398.38,349.5L398.88,347.63L399.38,345.78L399.87,343.97L400.37,342.19L400.87,340.45L401.37,338.77L401.87,337.12L402.36,335.47L402.86,333.81L403.36,332.18L403.86,330.56L404.36,328.99L404.86,327.47L405.35,326.01L405.85,324.63L406.35,323.34L406.85,322.16L407.35,321.07L407.84,320.01L408.34,318.97L408.84,317.95L409.34,316.97L409.84,316.04L410.33,315.18L410.83,314.4L411.33,313.7L411.83,313.1L412.33,312.62L412.82,312.24L413.32,311.89L413.82,311.56L414.32,311.24L414.82,310.94L415.31,310.66L415.81,310.41L416.31,310.19L416.81,310.01L417.31,309.87L417.8,309.76L418.3,309.71L418.8,309.71L419.3,309.81L419.8,310L420.29,310.28L420.79,310.63L421.29,311.03L421.79,311.49L422.29,311.97L422.79,312.47L423.28,312.98L423.78,313.49L424.28,314.09L424.78,314.79L425.28,315.57L425.77,316.41L426.27,317.29L426.77,318.2L427.27,319.11L427.77,320.01L428.26,320.88L428.76,321.76L429.26,322.65L429.76,323.55L430.26,324.47L430.75,325.4L431.25,326.34L431.75,327.3L432.25,325.49L432.74,323.72L433.24,321.98L433.74,320.27L434.23,318.6L434.73,316.96L435.23,315.37L435.72,313.79L436.22,312.24L436.72,310.72L437.21,309.23L437.71,307.79L438.21,306.38L438.7,305.03L439.2,303.71L439.7,302.42L440.19,301.17L440.69,299.95L441.18,298.77L441.68,297.61L442.18,296.47L442.67,295.37L443.17,294.29L443.67,293.23L444.16,292.2L444.66,291.19L445.16,290.19L445.65,289.21L446.15,288.25L446.65,287.29L447.14,286.35L447.64,285.4L448.14,284.46L448.63,283.54L449.13,282.63L449.63,281.74L450.12,280.88L450.62,280.04L451.12,279.24L451.61,278.48L452.11,277.74L452.61,277.04L453.1,276.35L453.6,275.68L454.1,275.03L454.59,274.39L455.09,273.76L455.59,273.14L456.08,272.52L456.58,271.9L457.07,271.28L457.57,270.64L458.07,269.99L458.56,269.33L459.06,268.68L459.56,268.03L460.05,267.41L460.55,266.82L461.05,266.27L461.54,265.76L462.04,265.31L462.54,264.92L463.03,264.55L463.53,264.19L464.03,263.86L464.52,263.54L465.02,263.25L465.52,262.99L466.01,262.75L466.51,262.54L467.01,262.36L467.5,262.19L468,262.02L468.5,261.87L468.99,261.73L469.49,261.62L469.99,261.54L470.48,261.5L470.98,261.54L471.48,261.7L471.97,261.98L472.47,262.34L472.97,262.79L473.46,263.28L473.96,263.82L474.45,264.38L474.95,264.93L475.45,265.52L475.94,266.21L476.44,266.99L476.94,267.86L477.43,268.79L477.93,269.76L478.43,270.75L478.92,271.75L479.42,272.79L479.92,273.89L480.41,275.04L480.91,276.24L481.41,277.48L481.9,278.77L482.4,280.1L482.89,279.67L483.39,279.27L483.88,278.9L484.38,278.61L484.87,278.39L485.37,278.27L485.86,278.18L486.36,278.1L486.85,278.03L487.35,277.97L487.84,277.93L488.33,277.91L488.83,277.9L489.32,277.98L489.82,278.2L490.31,278.52L490.81,278.93L491.3,279.4L491.8,279.91L492.29,280.43L492.78,280.97L493.28,281.63L493.77,282.4L494.27,283.26L494.76,284.2L495.26,285.2L495.75,286.23L496.25,287.29L496.74,288.35L497.24,289.4L497.73,290.5L498.22,291.65L498.72,292.84L499.21,294.08L499.71,295.35L500.2,296.66L500.7,297.99L501.19,299.35L501.69,300.74L502.18,302.18L502.68,303.66L503.17,305.19L503.66,306.79L504.16,308.46L504.65,310.22L505.15,312.12L505.64,314.12L506.14,316.19L506.63,318.3L507.13,320.42L507.62,322.51L508.12,324.65L508.61,326.85L509.1,329.06L509.6,331.24L510.09,333.36L510.59,335.36L511.08,337.25L511.58,339.09L512.07,340.88L512.57,342.62L513.06,344.31L513.55,345.94L514.05,347.52L514.54,349.05L515.04,350.54L515.53,351.99L516.03,353.41L516.52,354.79L517.02,356.12L517.51,357.41L518.01,358.66L518.5,359.85L518.99,358.25L519.49,356.67L519.98,355.11L520.47,353.58L520.97,352.08L521.46,350.61L521.96,349.16L522.45,347.72L522.94,346.3L523.44,344.9L523.93,343.54L524.42,342.21L524.92,340.93L525.41,339.7L525.9,338.46L526.4,337.2L526.89,335.95L527.39,334.74L527.88,333.59L528.37,332.52L528.87,331.55L529.36,330.71L529.85,330.03L530.35,329.44L530.84,328.87L531.34,328.35L531.83,327.86L532.32,327.42L532.82,327.02L533.31,326.68L533.8,326.38L534.3,326.14L534.79,325.94L535.28,325.75L535.78,325.57L536.27,325.41L536.77,325.27L537.26,325.15L537.75,325.06L538.25,325.01L538.74,325L539.23,325.08L539.73,325.24L540.22,325.48L540.71,325.79L541.21,326.15L541.7,326.57L542.2,327.01L542.69,327.49L543.18,327.98L543.68,328.49L544.17,329.15L544.66,329.97L545.16,330.92L545.65,331.96L546.15,333.06L546.64,334.2L547.13,335.32L547.63,336.42L548.12,337.44L548.61,338.42L549.11,339.4L549.6,340.39L550.09,341.37L550.59,342.36L551.08,343.35L551.58,344.34L552.07,345.33L552.56,346.32L553.06,347.31L553.55,348.3L554.05,346.58L554.55,344.94L555.05,343.39L555.55,341.97L556.05,340.68L556.55,339.54L557.05,338.47L557.55,337.45L558.05,336.51L558.55,335.63L559.05,334.84L559.55,334.14L560.05,333.52L560.55,332.95L561.05,332.39L561.55,331.88L562.05,331.41L562.55,331.01L563.05,330.69L563.55,330.47L564.05,330.3L564.55,330.15L565.05,330.01L565.55,329.9L566.05,329.8L566.55,329.74L567.05,329.7L567.55,329.72L568.05,329.84L568.55,330.05L569.05,330.35L569.55,330.71L570.05,331.12L570.55,331.58L571.05,332.06L571.55,332.55L572.05,333.06L572.55,333.69L573.05,334.43L573.55,335.27L574.05,336.18L574.55,337.16L575.05,338.18L575.55,339.22L576.05,340.27L576.55,341.31L577.05,342.41L577.55,343.58L578.05,344.79L578.55,346.05L579.05,347.33L579.55,348.61L580.05,349.89L580.55,351.14L581.05,352.36L581.55,353.57L582.05,354.77L582.55,355.97L583.05,357.17L583.55,358.36L584.05,359.55L584.55,360.73L585.05,361.9L585.55,363.07L586.05,364.22L586.55,365.37L587.05,366.52L587.55,367.65L588.05,368.78L588.55,369.9L589.04,368.42L589.53,366.91L590.02,365.38L590.51,363.82L591,362.25L591.49,360.65L591.98,359.02L592.47,357.34L592.96,355.59L593.45,353.8L593.94,352.01L594.44,350.25L594.93,348.55L595.42,346.92L595.91,345.39L596.4,343.87L596.89,342.39L597.38,340.93L597.87,339.52L598.36,338.14L598.85,336.82L599.34,335.55L599.83,334.34L600.32,333.19L600.81,332.1L601.3,331.05L601.79,330.03L602.28,329.06L602.77,328.11L603.26,327.19L603.75,326.29L604.24,325.41L604.73,324.54L605.22,323.69L605.71,322.84L606.21,322.02L606.7,321.2L607.19,320.41L607.68,319.63L608.17,318.86L608.66,318.12L609.15,317.39L609.64,316.69L610.13,316L610.62,315.34L611.11,314.7L611.6,314.08L611.6,417.04L611.11,416.35L610.62,415.67L610.13,414.98L609.64,414.28L609.15,413.59L608.66,412.89L608.17,412.19L607.68,411.48L607.19,410.77L606.7,410.06L606.21,409.35L605.71,408.63L605.22,407.91L604.73,407.19L604.24,406.46L603.75,405.73L603.26,405L602.77,404.28L602.28,403.58L601.79,402.88L601.3,402.17L600.81,401.42L600.32,400.62L599.83,399.75L599.34,398.8L598.85,397.75L598.36,396.62L597.87,395.45L597.38,394.24L596.89,393.02L596.4,391.74L595.91,390.39L595.42,389.02L594.93,387.66L594.44,386.35L593.94,385.12L593.45,383.96L592.96,382.85L592.47,381.73L591.98,380.58L591.49,379.36L591,378.02L590.51,376.58L590.02,375.03L589.53,373.39L589.04,371.68L588.55,369.9L588.05,371.07L587.55,372.22L587.05,373.35L586.55,374.45L586.05,375.53L585.55,376.58L585.05,377.6L584.55,378.6L584.05,379.6L583.55,380.62L583.05,381.65L582.55,382.65L582.05,383.61L581.55,384.51L581.05,385.33L580.55,386.05L580.05,386.65L579.55,387.17L579.05,387.69L578.55,388.2L578.05,388.67L577.55,389.1L577.05,389.46L576.55,389.74L576.05,389.93L575.55,390L575.05,389.96L574.55,389.85L574.05,389.66L573.55,389.41L573.05,389.12L572.55,388.79L572.05,388.44L571.55,388.07L571.05,387.71L570.55,387.34L570.05,386.92L569.55,386.46L569.05,385.95L568.55,385.4L568.05,384.81L567.55,384.19L567.05,383.54L566.55,382.86L566.05,382.15L565.55,381.42L565.05,380.66L564.55,379.83L564.05,378.94L563.55,377.98L563.05,376.97L562.55,375.91L562.05,374.8L561.55,373.65L561.05,372.46L560.55,371.22L560.05,369.89L559.55,368.46L559.05,366.97L558.55,365.42L558.05,363.83L557.55,362.23L557.05,360.62L556.55,358.97L556.05,357.29L555.55,355.56L555.05,353.8L554.55,352L554.05,350.17L553.55,348.3L553.06,349.38L552.56,350.46L552.07,351.54L551.58,352.62L551.08,353.7L550.59,354.78L550.09,355.86L549.6,356.93L549.11,358.01L548.61,359.08L548.12,360.16L547.63,361.24L547.13,362.35L546.64,363.47L546.15,364.59L545.65,365.71L545.16,366.82L544.66,367.91L544.17,368.98L543.68,370.01L543.18,371L542.69,371.94L542.2,372.84L541.7,373.76L541.21,374.67L540.71,375.56L540.22,376.41L539.73,377.21L539.23,377.95L538.74,378.6L538.25,379.16L537.75,379.63L537.26,380.08L536.77,380.52L536.27,380.94L535.78,381.32L535.28,381.63L534.79,381.88L534.3,382.04L533.8,382.1L533.31,382.07L532.82,381.99L532.32,381.87L531.83,381.71L531.34,381.52L530.84,381.3L530.35,381.07L529.85,380.83L529.36,380.54L528.87,380.17L528.37,379.72L527.88,379.2L527.39,378.62L526.89,378L526.4,377.33L525.9,376.64L525.41,375.93L524.92,375.19L524.42,374.37L523.93,373.46L523.44,372.47L522.94,371.43L522.45,370.35L521.96,369.22L521.46,368.08L520.97,366.87L520.47,365.58L519.98,364.23L519.49,362.82L518.99,361.36L518.5,359.85L518.01,360.4L517.51,360.93L517.02,361.44L516.52,361.9L516.03,362.33L515.53,362.72L515.04,363.06L514.54,363.4L514.05,363.75L513.55,364.08L513.06,364.37L512.57,364.6L512.07,364.75L511.58,364.8L511.08,364.69L510.59,364.4L510.09,363.95L509.6,363.37L509.1,362.69L508.61,361.93L508.12,361.13L507.62,360.31L507.13,359.5L506.63,358.68L506.14,357.75L505.64,356.73L505.15,355.61L504.65,354.42L504.16,353.16L503.66,351.84L503.17,350.48L502.68,349.09L502.18,347.65L501.69,346.08L501.19,344.38L500.7,342.59L500.2,340.75L499.71,338.9L499.21,337.08L498.72,335.32L498.22,333.58L497.73,331.85L497.24,330.12L496.74,328.39L496.25,326.68L495.75,324.99L495.26,323.32L494.76,321.69L494.27,320.09L493.77,318.51L493.28,316.95L492.78,315.4L492.29,313.85L491.8,312.28L491.3,310.71L490.81,309.13L490.31,307.56L489.82,305.99L489.32,304.41L488.83,302.82L488.33,301.22L487.84,299.6L487.35,297.98L486.85,296.34L486.36,294.69L485.86,293.01L485.37,291.29L484.87,289.52L484.38,287.72L483.88,285.87L483.39,283.98L482.89,282.06L482.4,280.1L481.9,281.43L481.41,282.82L480.91,284.26L480.41,285.78L479.92,287.38L479.42,289.05L478.92,290.76L478.43,292.48L477.93,294.19L477.43,295.88L476.94,297.55L476.44,299.23L475.94,300.91L475.45,302.62L474.95,304.36L474.45,306.16L473.96,308.01L473.46,309.94L472.97,311.93L472.47,313.96L471.97,316.01L471.48,318.08L470.98,320.14L470.48,322.18L469.99,324.27L469.49,326.4L468.99,328.54L468.5,330.67L468,332.74L467.5,334.74L467.01,336.62L466.51,338.39L466.01,340.14L465.52,341.85L465.02,343.51L464.52,345.14L464.03,346.7L463.53,348.2L463.03,349.63L462.54,350.99L462.04,352.26L461.54,353.46L461.05,354.65L460.55,355.81L460.05,356.93L459.56,357.99L459.06,358.99L458.56,359.89L458.07,360.7L457.57,361.38L457.07,361.95L456.58,362.49L456.08,363.03L455.59,363.54L455.09,364.01L454.59,364.44L454.1,364.8L453.6,365.09L453.1,365.29L452.61,365.39L452.11,365.39L451.61,365.3L451.12,365.15L450.62,364.94L450.12,364.67L449.63,364.37L449.13,364.02L448.63,363.65L448.14,363.27L447.64,362.87L447.14,362.47L446.65,362L446.15,361.45L445.65,360.82L445.16,360.12L444.66,359.37L444.16,358.58L443.67,357.74L443.17,356.87L442.67,355.99L442.18,355.09L441.68,354.18L441.18,353.23L440.69,352.21L440.19,351.12L439.7,349.99L439.2,348.79L438.7,347.56L438.21,346.25L437.71,344.83L437.21,343.33L436.72,341.78L436.22,340.2L435.72,338.64L435.23,337.12L434.73,335.66L434.23,334.23L433.74,332.82L433.24,331.41L432.74,330.03L432.25,328.66L431.75,327.3L431.25,328.78L430.75,330.26L430.26,331.74L429.76,333.22L429.26,334.7L428.76,336.18L428.26,337.66L427.77,339.14L427.27,340.62L426.77,342.1L426.27,343.59L425.77,345.09L425.28,346.61L424.78,348.15L424.28,349.69L423.78,351.24L423.28,352.77L422.79,354.28L422.29,355.76L421.79,357.19L421.29,358.59L420.79,359.92L420.29,361.23L419.8,362.54L419.3,363.85L418.8,365.14L418.3,366.4L417.8,367.61L417.31,368.78L416.81,369.88L416.31,370.9L415.81,371.84L415.31,372.68L414.82,373.45L414.32,374.19L413.82,374.91L413.32,375.59L412.82,376.24L412.33,376.84L411.83,377.41L411.33,377.92L410.83,378.38L410.33,378.79L409.84,379.14L409.34,379.47L408.84,379.8L408.34,380.12L407.84,380.42L407.35,380.7L406.85,380.95L406.35,381.17L405.85,381.36L405.35,381.49L404.86,381.57L404.36,381.6L403.86,381.57L403.36,381.48L402.86,381.34L402.36,381.15L401.87,380.93L401.37,380.68L400.87,380.39L400.37,380.09L399.87,379.76L399.38,379.43L398.88,379.09L398.38,378.7L397.88,378.23L397.38,377.68L396.89,377.05L396.39,376.36L395.89,375.59L395.39,374.75L394.89,373.78L394.4,372.54L393.9,371.1L393.4,369.55L392.9,371.12L392.4,372.69L391.9,374.27L391.41,375.85L390.91,377.44L390.41,379.04L389.91,380.66L389.41,382.3L388.91,383.94L388.41,385.57L387.92,387.17L387.42,388.74L386.92,390.24L386.42,391.73L385.92,393.2L385.42,394.65L384.92,396.06L384.43,397.42L383.93,398.72L383.43,399.93L382.93,401.09L382.43,402.2L381.93,403.28L381.43,404.32L380.94,405.32L380.44,406.29L379.94,407.22L379.44,408.11L378.94,408.97L378.44,409.78L377.94,410.54L377.45,411.26L376.95,411.96L376.45,412.63L375.95,413.29L375.45,413.96L374.95,414.63L374.45,415.33L373.95,416.06L373.46,416.82L372.96,417.6L372.46,418.37L371.96,419.13L371.46,419.86L370.96,420.54L370.46,421.16L369.97,421.74L369.47,422.29L368.97,422.81L368.47,423.31L367.97,423.79L367.47,424.24L366.97,424.68L366.48,425.12L365.98,425.56L365.48,426L364.98,426.42L364.48,426.79L363.98,427.1L363.48,427.34L362.99,427.5L362.49,427.64L361.99,427.78L361.49,427.9L360.99,428.02L360.49,428.11L359.99,428.19L359.5,428.25L359,428.29L358.5,428.3L358,428.29Z" fill="#1f77b4" fill-opacity="0.6" stroke="none"/>
<path d="M358,368.15L359,368.05L360,367.95L361,367.85L362,367.74L363,367.63L364,367.51L365,367.36L366,367.19L367,367.03L368,366.9L369,366.82L370,366.81L371,366.96L372,367.25L373,367.62L374,368.02L375,368.39L376,368.68L377,368.89L378,369.09L379,369.27L380,369.45L381,369.6L382,369.74L383,369.86L384,369.96L385,370.06L386,370.16L387,370.23L388,370.28L389,370.3L390,370.25L391,370.12L392,369.92L393,369.66L394,369.24L395,368.22L396,366.78L397,365.16L398,363.6L399,362.06L400,360.39L401,358.65L402,356.9L403,355.21L404,353.61L405,352.04L406,350.48L407,348.95L408,347.45L409,346L410,344.59L411,343.23L412,341.9L413,340.58L414,339.29L415,338.05L416,336.88L417,335.79L418,334.79L419,333.87L420,332.97L421,332.1L422,331.29L423,330.56L424,329.92L425,329.38L426,328.95L427,328.57L428,328.22L429,327.91L430,327.65L431,327.43L432,327.26L433,327.14L434,327.04L435,326.96L436,326.88L437,326.78L438,326.66L439,326.49L440,326.27L441,326L442,325.68L443,325.33L444,324.93L445,324.51L446,324.06L447,323.53L448,322.92L449,322.23L450,321.48L451,320.66L452,319.8L453,318.84L454,317.76L455,316.57L456,315.3L457,313.98L458,312.64L459,311.29L460,309.9L461,308.44L462,306.94L463,305.39L464,303.82L465,302.19L466,300.48L467,298.72L468,296.97L469,295.28L470,293.66L471,292.07L472,290.5L473,288.98L474,287.54L475,286.22L476,284.97L477,283.73L478,282.61L479,281.68L480,281.03L481,280.48L482,280.14L483,280.23L484,280.93L485,282.02L486,283.28L487,284.78L488,286.78L489,289.06L490,291.42L491,294.02L492,296.84L493,299.77L494,302.66L495,305.44L496,308.2L497,310.97L498,313.74L499,316.53L500,319.4L501,322.31L502,325.19L503,327.95L504,330.51L505,332.9L506,335.26L507,337.69L508,340.15L509,342.6L510,344.99L511,347.31L512,349.69L513,352.03L514,354.13L515,355.83L516,357.41L517,358.83L518,359.72L519,359.84L520,359.76L521,359.62L522,359.43L523,359.21L524,358.97L525,358.71L526,358.35L527,357.91L528,357.42L529,356.9L530,356.38L531,355.88L532,355.42L533,354.97L534,354.52L535,354.08L536,353.63L537,353.2L538,352.77L539,352.36L540,351.94L541,351.51L542,351.09L543,350.68L544,350.29L545,349.95L546,349.66L547,349.42L548,349.17L549,348.93L550,348.71L551,348.52L552,348.39L553,348.31L554,348.32L555,348.53L556,348.89L557,349.38L558,349.93L559,350.5L560,351.2L561,352.1L562,353.12L563,354.17L564,355.16L565,356.01L566,356.81L567,357.58L568,358.33L569,359.06L570,359.8L571,360.54L572,361.31L573,362.1L574,362.9L575,363.7L576,364.47L577,365.22L578,365.93L579,366.69L580,367.45L581,368.13L582,368.67L583,369.03L584,369.27L585,369.49L586,369.68L587,369.81L588,369.89L589,369.9L590,369.9L591,369.9L592,369.9L593,369.9L594,369.9L595,369.77L596,369.52L597,369.18L598,368.82L599,368.49L600,368.19L601,367.87L602,367.55L603,367.25L604,367L605,366.82L606,366.68L607,366.55L608,366.44L609,366.35L610,366.31L611.6,366.33" fill="none" stroke="#1f77b4" stroke-width="2.05" stroke-linejoin="round" stroke-linecap="square"/>
</g>
<rect x="358.5" y="253.5" width="252.65" height="183.75" fill="none" stroke="#111111" stroke-width="1.09" stroke-linejoin="miter"/>
<path d="M358.5,437.25v4.77M409.03,437.25v4.77M459.56,437.25v4.77M510.09,437.25v4.77M560.62,437.25v4.77M611.15,437.25v4.77" fill="none" stroke="#000000" stroke-width="1.09"/>
<text x="358.5" y="457" font-size="13.75" text-anchor="middle">0.0</text>
<text x="409.03" y="457" font-size="13.75" text-anchor="middle">0.2</text>
<text x="459.56" y="457" font-size="13.75" text-anchor="middle">0.4</text>
<text x="510.09" y="457" font-size="13.75" text-anchor="middle">0.6</text>
<text x="560.62" y="457" font-size="13.75" text-anchor="middle">0.8</text>
<text x="611.15" y="457" font-size="13.75" text-anchor="middle">1.0</text>
<g clip-path="url(#c12)">
<path d="M647.2,307.48L647.7,307.8L648.19,308.14L648.69,308.52L649.18,308.92L649.68,309.35L650.17,309.8L650.67,310.27L651.17,310.76L651.66,311.27L652.16,311.81L652.65,312.39L653.15,312.99L653.65,313.63L654.14,314.29L654.64,314.98L655.13,315.69L655.63,316.47L656.12,317.31L656.62,318.19L657.12,319.09L657.61,319.99L658.11,320.88L658.6,321.74L659.1,322.56L659.59,323.37L660.09,324.18L660.59,324.98L661.08,325.77L661.58,326.55L662.07,327.33L662.57,328.09L663.06,328.85L663.56,329.59L664.06,330.33L664.55,331.06L665.05,331.79L665.54,332.5L666.04,333.21L666.54,333.9L667.03,334.58L667.53,335.24L668.02,335.89L668.52,336.51L669.01,337.11L669.51,337.7L670.01,338.28L670.5,338.86L671,339.43L671.49,340.01L671.99,340.6L672.48,341.2L672.98,341.83L673.48,342.47L673.97,343.12L674.47,343.76L674.96,344.4L675.46,345.01L675.95,345.6L676.45,346.16L676.95,346.72L677.44,347.26L677.94,347.79L678.43,348.3L678.93,348.78L679.43,349.23L679.92,349.66L680.42,350.07L680.91,350.46L681.41,350.83L681.9,351.18L682.4,351.5L682.9,351.32L683.4,351.02L683.89,350.62L684.39,350.14L684.89,349.62L685.39,349.01L685.88,348.2L686.38,347.26L686.88,346.25L687.38,345.18L687.88,343.99L688.37,342.7L688.87,341.35L689.37,339.96L689.87,338.58L690.36,337.24L690.86,335.96L691.36,334.7L691.86,333.46L692.36,332.22L692.85,330.99L693.35,329.75L693.85,328.52L694.35,327.28L694.85,326.01L695.34,324.71L695.84,323.4L696.34,322.1L696.84,320.84L697.33,319.65L697.83,318.55L698.33,317.52L698.83,316.51L699.33,315.54L699.82,314.61L700.32,313.74L700.82,312.95L701.32,312.25L701.81,311.65L702.31,311.1L702.81,310.59L703.31,310.12L703.81,309.69L704.3,309.3L704.8,308.96L705.3,308.67L705.8,308.4L706.29,308.13L706.79,307.87L707.29,307.62L707.79,307.4L708.29,307.22L708.78,307.08L709.28,306.98L709.78,306.95L710.28,306.98L710.77,307.07L711.27,307.2L711.77,307.37L712.27,307.57L712.77,307.78L713.26,307.98L713.76,308.18L714.26,308.36L714.76,308.51L715.25,308.69L715.75,308.88L716.25,309.07L716.75,309.25L717.25,309.42L717.74,309.55L718.24,309.65L718.74,309.7L719.24,309.69L719.74,309.63L720.23,309.52L720.73,309.37L721.23,309.17L721.73,308.94L722.22,308.68L722.72,308.4L723.22,308.08L723.72,307.72L724.22,307.11L724.71,306.26L725.21,305.23L725.71,304.09L726.21,302.9L726.7,301.71L727.2,300.6L727.7,299.48L728.2,298.29L728.7,297.06L729.19,295.82L729.69,294.62L730.19,293.51L730.69,292.51L731.18,291.61L731.68,290.73L732.18,289.89L732.68,289.09L733.18,288.36L733.67,287.72L734.17,287.18L734.67,286.77L735.17,286.46L735.66,286.21L736.16,286L736.66,285.8L737.16,285.57L737.66,285.3L738.15,284.96L738.65,284.48L739.15,283.86L739.65,283.13L740.15,282.31L740.64,281.43L741.14,280.51L741.64,279.58L742.14,278.67L742.63,277.79L743.13,276.98L743.63,276.26L744.13,275.59L744.63,274.94L745.12,274.29L745.62,273.66L746.12,273.05L746.62,272.46L747.11,271.88L747.61,271.33L748.11,270.79L748.61,270.28L749.11,269.79L749.6,269.31L750.1,268.82L750.6,268.33L751.1,267.85L751.59,267.39L752.09,266.95L752.59,266.55L753.09,266.2L753.59,265.89L754.08,265.65L754.58,265.48L755.08,265.33L755.58,265.2L756.07,265.07L756.57,264.97L757.07,264.89L757.57,264.83L758.07,264.8L758.56,264.81L759.06,264.86L759.56,264.96L760.06,265.08L760.55,265.24L761.05,265.42L761.55,265.62L762.05,265.84L762.55,266.08L763.04,266.34L763.54,266.72L764.04,267.23L764.54,267.84L765.04,268.52L765.53,269.26L766.03,270.03L766.53,270.82L767.03,271.59L767.52,272.34L768.02,273.14L768.52,274.03L769.02,274.93L769.52,275.78L770.01,276.48L770.51,277L771.01,277.45L771.51,277.86L772,278.21L772.5,278.48L773,278.65L773.49,278.67L773.99,278.73L774.48,278.83L774.98,278.96L775.47,279.12L775.97,279.3L776.46,279.51L776.95,279.73L777.45,279.97L777.94,280.21L778.44,280.47L778.93,280.76L779.43,281.13L779.92,281.58L780.42,282.08L780.91,282.62L781.4,283.19L781.9,283.77L782.39,284.35L782.89,284.97L783.38,285.63L783.88,286.33L784.37,287.07L784.86,287.84L785.36,288.64L785.85,289.46L786.35,290.32L786.84,291.22L787.34,292.16L787.83,293.14L788.33,294.16L788.82,295.21L789.31,296.29L789.81,297.4L790.3,298.54L790.8,299.75L791.29,301.04L791.79,302.38L792.28,303.75L792.77,305.15L793.27,306.54L793.76,307.92L794.26,309.28L794.75,310.64L795.25,312.01L795.74,313.38L796.24,314.76L796.73,316.14L797.22,317.52L797.72,318.92L798.21,320.32L798.71,321.74L799.2,323.16L799.7,324.57L800.19,325.97L800.68,327.41L801.18,328.91L801.67,330.44L802.17,331.94L802.66,333.36L803.16,334.67L803.65,335.82L804.15,336.76L804.64,337.62L805.13,338.45L805.63,339.22L806.12,339.93L806.62,340.56L807.11,341.11L807.61,341.56L808.1,341.9L808.6,341.78L809.1,341.6L809.6,341.36L810.09,341.08L810.59,340.77L811.09,340.44L811.59,340.03L812.09,339.52L812.59,338.94L813.09,338.31L813.58,337.64L814.08,336.96L814.58,336.29L815.08,335.58L815.58,334.8L816.08,333.99L816.58,333.15L817.07,332.3L817.57,331.46L818.07,330.64L818.57,329.87L819.07,329.14L819.57,328.45L820.07,327.74L820.56,327.04L821.06,326.35L821.56,325.7L822.06,325.09L822.56,324.54L823.06,324.06L823.56,323.68L824.05,323.35L824.55,323.03L825.05,322.72L825.55,322.42L826.05,322.14L826.55,321.88L827.05,321.64L827.54,321.43L828.04,321.24L828.54,321.1L829.04,320.99L829.54,320.92L830.04,320.9L830.54,320.97L831.03,321.15L831.53,321.41L832.03,321.75L832.53,322.14L833.03,322.57L833.53,323.02L834.03,323.46L834.52,323.89L835.02,324.28L835.52,324.61L836.02,324.94L836.52,325.29L837.02,325.65L837.52,326.03L838.01,326.4L838.51,326.76L839.01,327.1L839.51,327.41L840.01,327.68L840.51,327.91L841.01,328.07L841.5,328.17L842,328.2L842.5,328.17L843,328.1L843.5,327.99L844,327.85L844.5,327.68L844.99,327.49L845.49,327.28L845.99,327.06L846.49,326.83L846.99,326.59L847.49,326.36L847.99,326.08L848.48,325.75L848.98,325.37L849.48,324.96L849.98,324.51L850.48,324.05L850.98,323.58L851.48,323.1L851.97,322.63L852.47,322.17L852.97,321.74L853.47,321.24L853.97,320.67L854.47,320.14L854.97,319.72L855.46,319.51L855.96,319.52L856.46,319.59L856.96,319.71L857.46,319.87L857.96,320.07L858.46,320.31L858.95,320.57L859.45,320.85L859.95,321.18L860.45,321.67L860.95,322.33L861.45,323.11L861.95,323.97L862.44,324.87L862.94,325.78L863.44,326.66L863.94,327.58L864.44,328.57L864.94,329.6L865.44,330.65L865.93,331.7L866.43,332.71L866.93,333.67L867.43,334.57L867.93,335.43L868.43,336.26L868.93,337.08L869.42,337.9L869.92,338.73L870.42,339.59L870.92,340.5L871.42,341.44L871.92,342.39L872.42,343.31L872.91,344.18L873.41,344.95L873.91,345.61L874.41,346.2L874.91,346.75L875.41,347.28L875.91,347.77L876.4,348.21L876.9,348.6L877.4,348.93L877.9,349.2L878.4,348.8L878.9,348.35L879.4,347.88L879.9,347.38L880.4,346.84L880.9,346.28L881.4,345.7L881.9,345.09L882.4,344.47L882.9,343.83L883.4,343.15L883.9,342.39L884.4,341.58L884.9,340.75L885.4,339.93L885.9,339.15L886.4,338.44L886.9,337.8L887.4,337.17L887.9,336.53L888.4,335.82L888.9,335L889.4,333.99L889.9,332.78L890.4,331.47L890.9,330.14L891.4,328.88L891.9,327.75L892.4,326.68L892.9,325.63L893.4,324.61L893.9,323.62L894.4,322.65L894.9,321.72L895.4,320.82L895.9,319.94L896.4,319.08L896.9,318.23L897.4,317.41L897.9,316.6L898.4,315.82L898.9,315.06L899.4,314.32L899.9,313.61L900.4,312.93L900.9,312.28L900.9,410.68L900.4,410.2L899.9,409.69L899.41,409.14L898.91,408.55L898.41,407.92L897.91,407.27L897.41,406.59L896.92,405.88L896.42,405.14L895.92,404.38L895.42,403.57L894.93,402.72L894.43,401.82L893.93,400.89L893.43,399.92L892.93,398.93L892.44,397.93L891.94,396.9L891.44,395.88L890.94,394.81L890.44,393.7L889.95,392.56L889.45,391.39L888.95,390.21L888.45,389.03L887.96,387.87L887.46,386.73L886.96,385.63L886.46,384.55L885.96,383.45L885.47,382.35L884.97,381.27L884.47,380.21L883.97,379.18L883.47,378.21L882.98,377.3L882.48,376.47L881.98,375.68L881.48,374.92L880.99,374.19L880.49,373.48L879.99,372.8L879.49,372.16L878.99,371.56L878.5,370.99L878,370.47L877.5,370L877.01,370.34L876.51,370.71L876.02,371.09L875.52,371.49L875.03,371.91L874.53,372.35L874.04,372.8L873.54,373.27L873.05,373.75L872.56,374.26L872.06,374.85L871.57,375.5L871.07,376.17L870.58,376.85L870.08,377.51L869.59,378.13L869.09,378.68L868.6,379.15L868.11,379.51L867.61,379.88L867.12,380.23L866.62,380.58L866.13,380.91L865.63,381.21L865.14,381.48L864.64,381.71L864.15,381.89L863.66,382.02L863.16,382.09L862.67,382.09L862.17,382.03L861.68,381.91L861.18,381.73L860.69,381.5L860.19,381.23L859.7,380.92L859.21,380.58L858.71,380.22L858.22,379.83L857.72,379.43L857.23,379.01L856.73,378.6L856.24,378.17L855.74,377.65L855.25,377.05L854.76,376.38L854.26,375.66L853.77,374.88L853.27,374.07L852.78,373.23L852.28,372.38L851.79,371.53L851.29,370.69L850.8,369.87L850.31,369.02L849.81,368.13L849.32,367.22L848.82,366.29L848.33,365.36L847.83,364.43L847.34,363.51L846.84,362.61L846.35,361.74L845.86,360.88L845.36,360.03L844.87,359.19L844.37,358.35L843.88,357.53L843.38,356.71L842.89,355.9L842.39,355.09L841.9,354.3L841.4,354.75L840.9,355.23L840.4,355.75L839.9,356.29L839.4,356.87L838.9,357.47L838.4,358.1L837.91,358.77L837.41,359.52L836.91,360.33L836.41,361.18L835.91,362.05L835.41,362.93L834.91,363.78L834.41,364.6L833.91,365.35L833.41,366.04L832.91,366.72L832.41,367.39L831.91,368.05L831.41,368.68L830.92,369.28L830.42,369.84L829.92,370.36L829.42,370.83L828.92,371.25L828.42,371.66L827.92,372.08L827.42,372.49L826.92,372.88L826.42,373.25L825.92,373.59L825.42,373.88L824.92,374.11L824.42,374.28L823.93,374.38L823.43,374.4L822.93,374.36L822.43,374.28L821.93,374.16L821.43,374.01L820.93,373.82L820.43,373.62L819.93,373.39L819.43,373.15L818.93,372.89L818.43,372.63L817.93,372.36L817.43,372.1L816.94,371.82L816.44,371.49L815.94,371.11L815.44,370.69L814.94,370.25L814.44,369.81L813.94,369.37L813.44,368.95L812.94,368.57L812.44,368.22L811.94,367.87L811.44,367.51L810.94,367.16L810.44,366.82L809.95,366.51L809.45,366.22L808.95,365.98L808.45,365.79L807.95,365.67L807.45,365.59L806.95,365.53L806.45,365.48L805.95,365.41L805.45,365.31L804.95,365.12L804.45,364.77L803.95,364.32L803.46,363.8L802.96,363.27L802.46,362.76L801.96,362.24L801.46,361.69L800.96,361.12L800.46,360.53L799.96,359.91L799.46,359.26L798.96,358.6L798.46,357.91L797.96,357.2L797.46,356.47L796.96,355.7L796.47,354.91L795.97,354.08L795.47,353.22L794.97,352.32L794.47,351.4L793.97,350.43L793.47,349.44L792.97,348.37L792.47,347.21L791.97,346L791.47,344.74L790.97,343.46L790.47,342.19L789.97,340.94L789.48,339.76L788.98,338.6L788.48,337.35L787.98,335.93L787.48,334.13L786.98,332.05L786.48,329.98L785.98,328.14L785.48,326.36L784.98,324.64L784.48,322.98L783.98,321.36L783.48,319.81L782.98,318.32L782.49,316.87L781.99,315.44L781.49,314.01L780.99,312.56L780.49,311.05L779.99,309.46L779.49,307.85L778.99,306.26L778.49,304.73L777.99,303.31L777.49,302L776.99,300.68L776.49,299.43L775.99,298.33L775.5,297.46L775,296.84L774.5,296.26L774,295.74L773.5,295.28L773,294.92L772.5,294.68L772,294.6L771.5,295.1L771,295.65L770.5,296.25L770,296.89L769.5,297.58L769,298.3L768.5,299.06L768,299.84L767.5,300.66L767,301.55L766.5,302.51L766,303.53L765.5,304.6L765,305.73L764.5,306.97L764,308.32L763.5,309.73L763,311.15L762.5,312.53L762,313.85L761.5,315.16L761,316.45L760.5,317.74L760,319.05L759.5,320.37L759,321.76L758.5,323.2L758,324.63L757.5,325.98L757,327.18L756.5,328.19L756,329.05L755.5,329.88L755,330.8L754.5,331.89L754,333.1L753.5,334.41L753,335.76L752.5,337.11L752,338.44L751.5,339.9L751,341.39L750.5,342.79L750,343.94L749.5,344.78L749,345.5L748.5,346.13L748,346.68L747.5,347.14L747,347.52L746.5,347.81L746,348.05L745.5,348.27L745,348.48L744.5,348.72L744,349L743.5,349.3L743,349.62L742.5,349.94L742,350.27L741.5,350.6L741,350.92L740.5,351.22L740,351.57L739.5,351.95L739,352.32L738.5,352.66L738,352.94L737.5,353.13L737,353.2L736.5,353.19L736,353.15L735.5,353.1L735,353.03L734.5,352.94L734,352.78L733.5,352.36L733,351.74L732.5,351.01L732,350.26L731.5,349.57L731,348.89L730.5,348.19L730,347.46L729.5,346.71L729,345.96L728.5,345.2L728,344.45L727.5,343.7L727,342.92L726.5,342.14L726,341.36L725.5,340.58L725,339.82L724.5,339.09L724,338.38L723.5,337.69L723,337.02L722.5,336.36L722,335.72L721.5,335.1L721,335.35L720.5,335.67L720,336.07L719.51,336.54L719.01,337.08L718.51,337.66L718.01,338.29L717.51,338.94L717.01,339.62L716.51,340.33L716.01,341.1L715.52,341.94L715.02,342.82L714.52,343.74L714.02,344.69L713.52,345.66L713.02,346.66L712.52,347.71L712.03,348.81L711.53,349.95L711.03,351.11L710.53,352.28L710.03,353.43L709.53,354.56L709.03,355.68L708.53,356.78L708.04,357.89L707.54,359L707.04,360.12L706.54,361.25L706.04,362.4L705.54,363.63L705.04,364.94L704.55,366.26L704.05,367.49L703.55,368.54L703.05,369.38L702.55,370.15L702.05,370.86L701.55,371.51L701.06,372.1L700.56,372.65L700.06,373.16L699.56,373.62L699.06,374.06L698.56,374.48L698.06,374.86L697.56,375.22L697.07,375.55L696.57,375.85L696.07,376.12L695.57,376.34L695.07,376.52L694.57,376.69L694.07,376.86L693.58,377.04L693.08,377.26L692.58,377.53L692.08,377.83L691.58,378.18L691.08,378.55L690.58,378.97L690.08,379.42L689.59,379.92L689.09,380.53L688.59,381.26L688.09,382.07L687.59,382.92L687.09,383.76L686.59,384.55L686.1,385.26L685.6,385.94L685.1,386.67L684.6,387.4L684.1,388.09L683.6,388.68L683.1,389.13L682.6,389.4L682.11,389.49L681.61,389.53L681.11,389.57L680.61,389.6L680.11,389.62L679.61,389.64L679.11,389.66L678.62,389.68L678.12,389.71L677.62,389.74L677.12,389.79L676.62,389.85L676.12,389.95L675.62,390.07L675.12,390.23L674.63,390.42L674.13,390.63L673.63,390.97L673.13,391.46L672.63,392.06L672.13,392.75L671.63,393.48L671.14,394.23L670.64,394.95L670.14,395.66L669.64,396.39L669.14,397.16L668.64,397.95L668.14,398.76L667.64,399.6L667.15,400.46L666.65,401.34L666.15,402.24L665.65,403.16L665.15,404.1L664.65,405.11L664.15,406.23L663.66,407.42L663.16,408.66L662.66,409.89L662.16,411.08L661.66,412.2L661.16,413.21L660.66,414.06L660.17,414.74L659.67,415.32L659.17,415.83L658.67,416.31L658.17,416.81L657.67,417.34L657.17,417.92L656.67,418.51L656.18,419.12L655.68,419.74L655.18,420.36L654.68,420.97L654.18,421.57L653.68,422.15L653.18,422.71L652.69,423.23L652.19,423.71L651.69,424.16L651.19,424.61L650.69,425.04L650.19,425.45L649.69,425.85L649.19,426.23L648.7,426.59L648.2,426.93L647.7,427.25L647.2,427.55Z" fill="#1f77b4" fill-opacity="0.6" stroke="none"/>
<path d="M680.3,357.2L685.3,362.2M680.3,362.2L685.3,357.2M718.8,320L723.8,325M718.8,325L723.8,320M769.6,279.8L774.6,284.8M769.6,284.8L774.6,279.8M804.7,349.45L809.7,354.45M804.7,354.45L809.7,349.45M839.95,338.1L844.95,343.1M839.95,343.1L844.95,338.1M875.4,358L880.4,363M875.4,363L880.4,358" fill="none" stroke="#000000" stroke-width="1.9" stroke-linecap="butt"/>
<path d="M647.2,311.08L647.7,311.2L648.19,311.35L648.69,311.52L649.18,311.71L649.68,311.93L650.17,312.16L650.67,312.41L651.17,312.67L651.66,312.95L652.16,313.26L652.65,313.6L653.15,313.97L653.65,314.36L654.14,314.77L654.64,315.19L655.13,315.61L655.63,316.06L656.12,316.53L656.62,317.01L657.12,317.52L657.61,318.03L658.11,318.56L658.6,319.09L659.1,319.63L659.59,320.17L660.09,320.72L660.59,321.28L661.08,321.85L661.58,322.44L662.07,323.05L662.57,323.68L663.06,324.33L663.56,325.01L664.06,325.74L664.55,326.5L665.05,327.3L665.54,328.12L666.04,328.96L666.54,329.8L667.03,330.65L667.53,331.49L668.02,332.32L668.52,333.16L669.01,334.01L669.51,334.86L670.01,335.72L670.5,336.58L671,337.44L671.49,338.29L671.99,339.14L672.48,340L672.98,340.86L673.48,341.7L673.97,342.53L674.47,343.33L674.96,344.12L675.46,344.89L675.95,345.66L676.45,346.41L676.95,347.14L677.44,347.86L677.94,348.55L678.43,349.23L678.93,349.9L679.43,350.56L679.92,351.2L680.42,351.83L680.91,352.44L681.41,353.05L681.9,353.63L682.4,354.2L682.9,353.67L683.39,353.09L683.89,352.47L684.39,351.82L684.89,351.13L685.38,350.42L685.88,349.68L686.38,348.91L686.88,348.1L687.37,347.22L687.87,346.26L688.37,345.19L688.87,343.99L689.36,342.68L689.86,341.31L690.36,339.9L690.86,338.5L691.35,337.14L691.85,335.85L692.35,334.56L692.85,333.27L693.34,331.99L693.84,330.73L694.34,329.48L694.84,328.27L695.33,327.08L695.83,325.9L696.33,324.72L696.83,323.56L697.32,322.42L697.82,321.34L698.32,320.31L698.82,319.35L699.31,318.45L699.81,317.55L700.31,316.69L700.81,315.86L701.3,315.11L701.8,314.45L702.3,313.89L702.8,313.44L703.29,313.05L703.79,312.68L704.29,312.36L704.79,312.06L705.28,311.8L705.78,311.57L706.28,311.37L706.78,311.17L707.27,310.98L707.77,310.81L708.27,310.68L708.77,310.61L709.26,310.61L709.76,310.69L710.26,310.82L710.76,311.01L711.25,311.22L711.75,311.45L712.25,311.68L712.75,311.92L713.24,312.18L713.74,312.49L714.24,312.82L714.74,313.17L715.23,313.53L715.73,313.9L716.23,314.27L716.73,314.64L717.22,315.02L717.72,315.4L718.22,315.79L718.72,316.2L719.21,316.61L719.71,317.03L720.21,317.46L720.71,317.9L721.2,318.34L721.7,318.8L722.2,317.36L722.69,315.93L723.19,314.53L723.69,313.14L724.19,311.78L724.68,310.44L725.18,309.12L725.68,307.82L726.17,306.56L726.67,305.32L727.17,304.1L727.66,302.89L728.16,301.67L728.66,300.45L729.16,299.21L729.65,297.91L730.15,296.59L730.65,295.25L731.14,293.94L731.64,292.68L732.14,291.5L732.64,290.43L733.13,289.44L733.63,288.52L734.13,287.64L734.62,286.8L735.12,285.98L735.62,285.19L736.11,284.39L736.61,283.62L737.11,282.88L737.61,282.15L738.1,281.4L738.6,280.6L739.1,279.77L739.59,278.92L740.09,278.05L740.59,277.18L741.09,276.31L741.58,275.45L742.08,274.62L742.58,273.81L743.07,273.05L743.57,272.34L744.07,271.67L744.56,271L745.06,270.35L745.56,269.72L746.06,269.11L746.55,268.51L747.05,267.94L747.55,267.4L748.04,266.89L748.54,266.4L749.04,265.95L749.54,265.52L750.03,265.08L750.53,264.64L751.03,264.21L751.52,263.8L752.02,263.41L752.52,263.07L753.01,262.76L753.51,262.51L754.01,262.32L754.51,262.2L755,262.12L755.5,262.05L756,261.98L756.49,261.94L756.99,261.91L757.49,261.9L757.99,261.96L758.48,262.09L758.98,262.29L759.48,262.54L759.97,262.84L760.47,263.17L760.97,263.52L761.46,263.88L761.96,264.25L762.46,264.66L762.96,265.14L763.45,265.7L763.95,266.3L764.45,266.96L764.94,267.65L765.44,268.37L765.94,269.11L766.44,269.85L766.93,270.65L767.43,271.52L767.93,272.44L768.42,273.4L768.92,274.37L769.42,275.34L769.91,276.31L770.41,277.29L770.91,278.3L771.41,279.31L771.9,280.35L772.4,281.4L772.9,280.77L773.39,280.18L773.89,279.65L774.38,279.2L774.88,278.86L775.38,278.62L775.87,278.39L776.37,278.18L776.86,278L777.36,277.85L777.85,277.75L778.35,277.7L778.85,277.74L779.34,277.93L779.84,278.24L780.33,278.66L780.83,279.15L781.33,279.69L781.82,280.26L782.32,280.82L782.81,281.45L783.31,282.19L783.8,283.04L784.3,283.96L784.8,284.94L785.29,285.95L785.79,286.96L786.28,287.97L786.78,288.96L787.27,289.96L787.77,290.99L788.27,292.04L788.76,293.12L789.26,294.22L789.75,295.34L790.25,296.5L790.75,297.68L791.24,298.9L791.74,300.18L792.23,301.52L792.73,302.9L793.23,304.3L793.72,305.7L794.22,307.1L794.71,308.47L795.21,309.83L795.7,311.18L796.2,312.52L796.7,313.88L797.19,315.23L797.69,316.6L798.18,317.97L798.68,319.36L799.17,320.75L799.67,322.15L800.17,323.56L800.66,325L801.16,326.48L801.65,328L802.15,329.57L802.65,331.15L803.14,332.75L803.64,334.33L804.13,335.88L804.63,337.39L805.12,338.87L805.62,340.33L806.12,341.78L806.61,343.21L807.11,344.63L807.6,346.02L808.1,347.4L808.59,346.66L809.09,345.92L809.58,345.19L810.08,344.45L810.57,343.71L811.07,342.98L811.56,342.25L812.05,341.52L812.55,340.78L813.04,340.05L813.54,339.32L814.03,338.6L814.52,337.87L815.02,337.12L815.51,336.35L816.01,335.57L816.5,334.8L817,334.04L817.49,333.3L817.98,332.58L818.48,331.91L818.97,331.28L819.47,330.71L819.96,330.16L820.46,329.62L820.95,329.09L821.44,328.59L821.94,328.13L822.43,327.7L822.93,327.33L823.42,327L823.91,326.73L824.41,326.46L824.9,326.19L825.4,325.93L825.89,325.68L826.39,325.44L826.88,325.23L827.37,325.03L827.87,324.86L828.36,324.72L828.86,324.61L829.35,324.54L829.84,324.5L830.34,324.52L830.83,324.64L831.33,324.85L831.82,325.13L832.32,325.47L832.81,325.86L833.3,326.29L833.8,326.73L834.29,327.19L834.79,327.64L835.28,328.08L835.78,328.52L836.27,328.99L836.76,329.48L837.26,330L837.75,330.55L838.25,331.12L838.74,331.72L839.23,332.34L839.73,332.98L840.22,333.64L840.72,334.33L841.21,335.03L841.71,335.76L842.2,336.5L842.7,335.75L843.19,335.01L843.69,334.29L844.18,333.58L844.68,332.9L845.18,332.24L845.67,331.6L846.17,330.99L846.66,330.4L847.16,329.83L847.65,329.28L848.15,328.73L848.65,328.19L849.14,327.67L849.64,327.15L850.13,326.67L850.63,326.2L851.12,325.77L851.62,325.37L852.12,325.01L852.61,324.69L853.11,324.39L853.6,324.08L854.1,323.79L854.6,323.52L855.09,323.29L855.59,323.12L856.08,323.02L856.58,323.01L857.08,323.11L857.57,323.31L858.07,323.6L858.56,323.95L859.06,324.36L859.55,324.81L860.05,325.28L860.55,325.76L861.04,326.24L861.54,326.81L862.03,327.47L862.53,328.2L863.02,328.98L863.52,329.8L864.02,330.63L864.51,331.46L865.01,332.28L865.5,333.14L866,334.02L866.5,334.93L866.99,335.86L867.49,336.81L867.98,337.77L868.48,338.75L868.98,339.74L869.47,340.73L869.97,341.73L870.46,342.74L870.96,343.82L871.45,344.94L871.95,346.08L872.45,347.2L872.94,348.27L873.44,349.27L873.93,350.16L874.43,350.97L874.92,351.76L875.42,352.51L875.92,353.22L876.41,353.89L876.91,354.51L877.4,355.08L877.9,355.6L878.4,354.81L878.9,354.03L879.4,353.24L879.9,352.46L880.4,351.67L880.9,350.89L881.4,350.11L881.9,349.32L882.4,348.54L882.9,347.76L883.4,346.97L883.9,346.18L884.4,345.38L884.9,344.58L885.4,343.78L885.9,342.99L886.4,342.22L886.9,341.46L887.4,340.72L887.9,340L888.4,339.32L888.9,338.66L889.4,338.01L889.9,337.36L890.4,336.71L890.9,336.05L891.4,335.36L891.9,334.63L892.4,333.88L892.9,333.11L893.4,332.32L893.9,331.52L894.4,330.72L894.9,329.92L895.4,329.15L895.9,328.37L896.4,327.6L896.9,326.83L897.4,326.07L897.9,325.3L898.4,324.54L898.9,323.77L899.4,323.01L899.9,322.25L900.4,321.5L900.9,320.74L900.9,412.46L900.4,412.14L899.9,411.78L899.41,411.39L898.91,410.95L898.41,410.49L897.91,409.99L897.41,409.47L896.92,408.92L896.42,408.34L895.92,407.75L895.42,407.13L894.93,406.46L894.43,405.76L893.93,405.01L893.43,404.23L892.93,403.41L892.44,402.56L891.94,401.67L891.44,400.75L890.94,399.8L890.44,398.76L889.95,397.65L889.45,396.48L888.95,395.27L888.45,394.02L887.96,392.77L887.46,391.51L886.96,390.28L886.46,389.06L885.96,387.83L885.47,386.55L884.97,385.26L884.47,383.97L883.97,382.69L883.47,381.46L882.98,380.28L882.48,379.18L881.98,378.17L881.48,377.2L880.99,376.27L880.49,375.37L879.99,374.5L879.49,373.68L878.99,372.89L878.5,372.15L878,371.45L877.5,370.8L877.01,371.02L876.51,371.27L876.02,371.56L875.52,371.87L875.03,372.21L874.53,372.57L874.04,372.95L873.54,373.35L873.05,373.77L872.56,374.23L872.06,374.78L871.57,375.41L871.07,376.09L870.58,376.78L870.08,377.46L869.59,378.1L869.09,378.67L868.6,379.14L868.11,379.51L867.61,379.88L867.12,380.23L866.62,380.58L866.13,380.91L865.63,381.21L865.14,381.48L864.64,381.71L864.15,381.89L863.66,382.02L863.16,382.09L862.67,382.09L862.17,382.02L861.68,381.87L861.18,381.66L860.69,381.39L860.19,381.08L859.7,380.71L859.21,380.32L858.71,379.89L858.22,379.44L857.72,378.98L857.23,378.5L856.73,378.02L856.24,377.54L855.74,376.96L855.25,376.3L854.76,375.57L854.26,374.77L853.77,373.93L853.27,373.06L852.78,372.17L852.28,371.27L851.79,370.38L851.29,369.5L850.8,368.66L850.31,367.78L849.81,366.87L849.32,365.94L848.82,365.01L848.33,364.09L847.83,363.19L847.34,362.33L846.84,361.52L846.35,360.78L845.86,360.07L845.36,359.39L844.87,358.72L844.37,358.08L843.88,357.47L843.38,356.88L842.89,356.32L842.39,355.79L841.9,355.3L841.4,355.9L840.9,356.54L840.4,357.21L839.9,357.91L839.4,358.64L838.9,359.4L838.4,360.18L837.91,360.99L837.41,361.82L836.91,362.7L836.41,363.66L835.91,364.68L835.41,365.75L834.91,366.84L834.41,367.92L833.91,368.97L833.41,369.97L832.91,370.9L832.41,371.77L831.91,372.65L831.41,373.52L830.92,374.39L830.42,375.23L829.92,376.03L829.42,376.8L828.92,377.51L828.42,378.15L827.92,378.72L827.42,379.2L826.92,379.61L826.42,380.02L825.92,380.42L825.42,380.8L824.92,381.16L824.42,381.49L823.93,381.78L823.43,382.02L822.93,382.21L822.43,382.34L821.93,382.4L821.43,382.37L820.93,382.27L820.43,382.08L819.93,381.82L819.43,381.49L818.93,381.11L818.43,380.69L817.93,380.22L817.43,379.72L816.94,379.19L816.44,378.65L815.94,378.1L815.44,377.54L814.94,376.9L814.44,376.06L813.94,375.09L813.44,374.03L812.94,372.95L812.44,371.88L811.94,370.89L811.44,370.03L810.94,369.35L810.44,368.8L809.95,368.28L809.45,367.79L808.95,367.33L808.45,366.89L807.95,366.49L807.45,366.12L806.95,365.78L806.45,365.49L805.95,365.23L805.45,365.02L804.95,364.85L804.45,364.7L803.95,364.58L803.46,364.47L802.96,364.38L802.46,364.3L801.96,364.21L801.46,364.13L800.96,364.03L800.46,363.92L799.96,363.78L799.46,363.63L798.96,363.43L798.46,363.17L797.96,362.8L797.46,362.35L796.96,361.83L796.47,361.23L795.97,360.58L795.47,359.89L794.97,359.16L794.47,358.4L793.97,357.58L793.47,356.62L792.97,355.53L792.47,354.35L791.97,353.08L791.47,351.75L790.97,350.38L790.47,348.99L789.97,347.61L789.48,346.21L788.98,344.75L788.48,343.24L787.98,341.67L787.48,340.05L786.98,338.37L786.48,336.63L785.98,334.82L785.48,332.84L784.98,330.77L784.48,328.7L783.98,326.7L783.48,324.82L782.98,323.01L782.49,321.23L781.99,319.49L781.49,317.79L780.99,316.13L780.49,314.49L779.99,312.88L779.49,311.3L778.99,309.77L778.49,308.27L777.99,306.73L777.49,305.1L776.99,303.48L776.49,301.95L775.99,300.6L775.5,299.51L775,298.77L774.5,298.17L774,297.61L773.5,297.12L773,296.74L772.5,296.49L772,296.4L771.5,296.94L771,297.55L770.5,298.21L770,298.93L769.5,299.69L769,300.49L768.5,301.37L768,302.31L767.5,303.32L767,304.38L766.5,305.5L766,306.71L765.5,308.05L765,309.45L764.5,310.87L764,312.26L763.5,313.59L763,314.9L762.5,316.19L762,317.48L761.5,318.78L761,320.1L760.5,321.48L760,322.93L759.5,324.38L759,325.74L758.5,326.97L758,327.99L757.5,328.86L757,329.64L756.5,330.39L756,331.16L755.5,332.02L755,333.02L754.5,334.14L754,335.35L753.5,336.6L753,337.84L752.5,339.03L752,340.21L751.5,341.39L751,342.56L750.5,343.7L750,344.78L749.5,345.81L749,346.83L748.5,347.81L748,348.74L747.5,349.59L747,350.34L746.5,351.05L746,351.72L745.5,352.34L745,352.87L744.5,353.3L744,353.63L743.5,353.94L743,354.23L742.5,354.47L742,354.66L741.5,354.78L741,354.8L740.5,354.74L740,354.61L739.5,354.44L739,354.24L738.5,354.02L738,353.8L737.5,353.59L737,353.4L736.5,353.24L736,353.1L735.5,352.96L735,352.8L734.5,352.59L734,352.33L733.5,351.94L733,351.46L732.5,350.92L732,350.36L731.5,349.79L731,349.19L730.5,348.54L730,347.85L729.5,347.14L729,346.41L728.5,345.68L728,344.95L727.5,344.21L727,343.46L726.5,342.7L726,341.92L725.5,341.15L725,340.37L724.5,339.6L724,338.85L723.5,338.09L723,337.34L722.5,336.59L722,335.84L721.5,335.1L721,335.52L720.51,336.02L720.01,336.57L719.52,337.19L719.02,337.89L718.52,338.67L718.03,339.52L717.53,340.41L717.04,341.34L716.54,342.3L716.04,343.33L715.55,344.42L715.05,345.55L714.55,346.71L714.06,347.89L713.56,349.08L713.07,350.26L712.57,351.47L712.07,352.72L711.58,353.98L711.08,355.25L710.59,356.52L710.09,357.79L709.59,359.04L709.1,360.25L708.6,361.43L708.11,362.6L707.61,363.78L707.11,365L706.62,366.28L706.12,367.65L705.62,369.22L705.13,371.11L704.63,373.1L704.14,374.96L703.64,376.46L703.14,377.48L702.65,378.37L702.15,379.18L701.66,379.9L701.16,380.52L700.66,381.03L700.17,381.41L699.67,381.65L699.18,381.85L698.68,382.02L698.18,382.18L697.69,382.3L697.19,382.4L696.69,382.47L696.2,382.5L695.7,382.47L695.21,382.38L694.71,382.23L694.21,382.03L693.72,381.82L693.22,381.6L692.73,381.38L692.23,381.13L691.73,380.85L691.24,380.53L690.74,380.18L690.25,379.78L689.75,379.35L689.25,378.78L688.76,378.03L688.26,377.18L687.76,376.33L687.27,375.55L686.77,374.93L686.28,374.35L685.78,373.8L685.28,373.28L684.79,372.8L684.29,372.35L683.8,371.95L683.3,371.6L682.81,372L682.31,372.54L681.82,373.21L681.32,373.97L680.83,374.8L680.33,375.73L679.84,376.92L679.34,378.3L678.85,379.78L678.35,381.25L677.86,382.6L677.37,383.9L676.87,385.22L676.38,386.52L675.88,387.8L675.39,389.03L674.89,390.17L674.4,391.22L673.9,392.14L673.41,392.97L672.92,393.73L672.42,394.45L671.93,395.15L671.43,395.85L670.94,396.58L670.44,397.35L669.95,398.14L669.45,398.94L668.96,399.75L668.46,400.56L667.97,401.38L667.48,402.2L666.98,403.04L666.49,403.87L665.99,404.72L665.5,405.57L665,406.42L664.51,407.34L664.01,408.33L663.52,409.35L663.02,410.37L662.53,411.37L662.04,412.31L661.54,413.16L661.05,413.88L660.55,414.45L660.06,414.88L659.56,415.25L659.07,415.57L658.57,415.86L658.08,416.14L657.58,416.42L657.09,416.7L656.6,416.96L656.1,417.22L655.61,417.47L655.11,417.71L654.62,417.94L654.12,418.17L653.63,418.4L653.13,418.63L652.64,418.85L652.15,419.07L651.65,419.29L651.16,419.5L650.66,419.71L650.17,419.92L649.67,420.12L649.18,420.32L648.68,420.52L648.19,420.71L647.69,420.9L647.2,421.09Z" fill="#ff7f0e" fill-opacity="0.3" stroke="none"/>
<path d="M647.2,366.45L648.2,366.45L649.2,366.41L650.2,366.34L651.2,366.24L652.2,366.11L653.2,365.73L654.2,364.89L655.2,363.86L656.2,362.89L657.2,362.23L658.2,361.67L659.2,361.13L660.2,360.67L661.2,360.34L662.2,360.2L663.2,360.26L664.2,360.44L665.2,360.7L666.2,361.01L667.2,361.33L668.2,361.62L669.2,362L670.2,362.44L671.2,362.85L672.2,363.16L673.2,363.3L674.2,363.27L675.2,363.16L676.2,362.99L677.2,362.78L678.2,362.55L679.2,362.29L680.2,361.93L681.2,361.48L682.2,360.94L683.2,360.35L684.2,359.73L685.2,359.06L686.2,358.29L687.2,357.44L688.2,356.54L689.2,355.58L690.2,354.6L691.2,353.59L692.2,352.53L693.2,351.41L694.2,350.22L695.2,348.97L696.2,347.67L697.2,346.22L698.2,344.62L699.2,342.93L700.2,341.22L701.2,339.53L702.2,337.92L703.2,336.47L704.2,335.15L705.2,333.86L706.2,332.62L707.2,331.43L708.2,330.31L709.2,329.29L710.2,328.37L711.2,327.55L712.2,326.77L713.2,326.02L714.2,325.32L715.2,324.69L716.2,324.14L717.2,323.69L718.2,323.34L719.2,323.07L720.2,322.84L721.2,322.64L722.2,322.47L723.2,322.29L724.2,322.12L725.2,321.92L726.2,321.71L727.2,321.52L728.2,321.32L729.2,321.12L730.2,320.9L731.2,320.67L732.2,320.41L733.2,320.12L734.2,319.8L735.2,319.44L736.2,319.04L737.2,318.62L738.2,318.16L739.2,317.66L740.2,317.13L741.2,316.51L742.2,315.8L743.2,315.04L744.2,314.25L745.2,313.4L746.2,312.49L747.2,311.5L748.2,310.41L749.2,309.21L750.2,307.94L751.2,306.65L752.2,305.36L753.2,304.1L754.2,302.88L755.2,301.65L756.2,300.39L757.2,299.1L758.2,297.72L759.2,296.26L760.2,294.87L761.2,293.61L762.2,292.42L763.2,291.24L764.2,289.98L765.2,288.59L766.2,287.22L767.2,286.09L768.2,285.19L769.2,284.38L770.2,283.87L771.2,283.71L772.2,283.62L773.2,283.65L774.2,285.04L775.2,287.43L776.2,289.57L777.2,291.36L778.2,293.13L779.2,294.92L780.2,296.78L781.2,298.68L782.2,300.6L783.2,302.58L784.2,304.62L785.2,306.74L786.2,309L787.2,311.44L788.2,313.95L789.2,316.44L790.2,318.82L791.2,321.18L792.2,323.5L793.2,325.78L794.2,327.99L795.2,330.15L796.2,332.29L797.2,334.43L798.2,336.57L799.2,338.68L800.2,340.72L801.2,342.68L802.2,344.69L803.2,346.66L804.2,348.44L805.2,349.87L806.2,351L807.2,352.1L808.2,353.02L809.2,353.63L810.2,353.8L811.2,353.8L812.2,353.8L813.2,353.8L814.2,353.8L815.2,353.73L816.2,353.44L817.2,352.97L818.2,352.37L819.2,351.71L820.2,351.04L821.2,350.42L822.2,349.9L823.2,349.4L824.2,348.89L825.2,348.39L826.2,347.89L827.2,347.4L828.2,346.92L829.2,346.45L830.2,345.98L831.2,345.5L832.2,345.01L833.2,344.55L834.2,344.12L835.2,343.75L836.2,343.45L837.2,343.2L838.2,342.96L839.2,342.74L840.2,342.55L841.2,342.4L842.2,342.31L843.2,342.31L844.2,342.43L845.2,342.65L846.2,342.95L847.2,343.31L848.2,343.7L849.2,344.1L850.2,344.55L851.2,345.1L852.2,345.73L853.2,346.42L854.2,347.15L855.2,347.9L856.2,348.63L857.2,349.37L858.2,350.16L859.2,350.99L860.2,351.83L861.2,352.67L862.2,353.49L863.2,354.27L864.2,354.98L865.2,355.69L866.2,356.39L867.2,357.06L868.2,357.71L869.2,358.3L870.2,358.83L871.2,359.29L872.2,359.73L873.2,360.17L874.2,360.6L875.2,360.98L876.2,361.28L877.2,361.5L878.2,361.6L879.2,361.59L880.2,361.56L881.2,361.52L882.2,361.45L883.2,361.37L884.2,361.27L885.2,361.16L886.2,361.02L887.2,360.72L888.2,360.28L889.2,359.74L890.2,359.13L891.2,358.5L892.2,357.87L893.2,357.29L894.2,356.71L895.2,356.12L896.2,355.51L897.2,354.88L898.2,354.24L899.2,353.58L900.9,352.42" fill="none" stroke="#1f77b4" stroke-width="2.05" stroke-linejoin="round" stroke-linecap="square"/>
<path d="M647.2,365.58L648.2,365.82L649.2,366.04L650.2,366.27L651.2,366.47L652.2,366.65L653.2,366.8L654.2,366.91L655.2,366.98L656.2,367L657.2,367L658.2,367L659.2,367L660.2,367L661.2,367L662.2,367L663.2,367L664.2,367L665.2,367L666.2,366.96L667.2,366.86L668.2,366.71L669.2,366.51L670.2,366.28L671.2,366.03L672.2,365.76L673.2,365.48L674.2,365.2L675.2,364.9L676.2,364.55L677.2,364.16L678.2,363.73L679.2,363.27L680.2,362.77L681.2,362.26L682.2,361.71L683.2,361.1L684.2,360.43L685.2,359.72L686.2,358.97L687.2,358.2L688.2,357.42L689.2,356.64L690.2,355.85L691.2,355.05L692.2,354.23L693.2,353.37L694.2,352.47L695.2,351.51L696.2,350.49L697.2,349.36L698.2,348.12L699.2,346.8L700.2,345.45L701.2,344L702.2,342.46L703.2,340.89L704.2,339.32L705.2,337.81L706.2,336.39L707.2,335.13L708.2,333.97L709.2,332.85L710.2,331.78L711.2,330.77L712.2,329.81L713.2,328.92L714.2,328.11L715.2,327.34L716.2,326.58L717.2,325.85L718.2,325.17L719.2,324.55L720.2,324.02L721.2,323.58L722.2,323.25L723.2,322.99L724.2,322.77L725.2,322.59L726.2,322.43L727.2,322.25L728.2,322.06L729.2,321.83L730.2,321.54L731.2,321.18L732.2,320.76L733.2,320.27L734.2,319.74L735.2,319.16L736.2,318.53L737.2,317.86L738.2,317.16L739.2,316.43L740.2,315.6L741.2,314.66L742.2,313.62L743.2,312.5L744.2,311.32L745.2,310.12L746.2,308.9L747.2,307.69L748.2,306.51L749.2,305.35L750.2,304.15L751.2,302.92L752.2,301.68L753.2,300.44L754.2,299.21L755.2,298.01L756.2,296.84L757.2,295.72L758.2,294.65L759.2,293.63L760.2,292.65L761.2,291.67L762.2,290.7L763.2,289.68L764.2,288.67L765.2,287.81L766.2,287.11L767.2,286.45L768.2,286.04L769.2,286.01L770.2,286.07L771.2,286.17L772.2,286.32L773.2,287.19L774.2,288.82L775.2,290.68L776.2,292.43L777.2,294.37L778.2,296.43L779.2,298.5L780.2,300.56L781.2,302.64L782.2,304.77L783.2,306.94L784.2,309.18L785.2,311.54L786.2,314.07L787.2,316.63L788.2,319.07L789.2,321.26L790.2,323.31L791.2,325.44L792.2,327.8L793.2,330.32L794.2,332.8L795.2,335.19L796.2,337.58L797.2,339.89L798.2,342.08L799.2,344.09L800.2,346.02L801.2,347.89L802.2,349.65L803.2,351.22L804.2,352.56L805.2,353.66L806.2,354.68L807.2,355.61L808.2,356.4L809.2,357.03L810.2,357.47L811.2,357.83L812.2,358.16L813.2,358.43L814.2,358.61L815.2,358.7L816.2,358.65L817.2,358.45L818.2,358.13L819.2,357.72L820.2,357.27L821.2,356.79L822.2,356.3L823.2,355.69L824.2,354.96L825.2,354.15L826.2,353.3L827.2,352.46L828.2,351.65L829.2,350.93L830.2,350.24L831.2,349.54L832.2,348.85L833.2,348.2L834.2,347.58L835.2,347.04L836.2,346.58L837.2,346.18L838.2,345.78L839.2,345.4L840.2,345.07L841.2,344.82L842.2,344.68L843.2,344.66L844.2,344.75L845.2,344.93L846.2,345.17L847.2,345.46L848.2,345.78L849.2,346.1L850.2,346.47L851.2,346.92L852.2,347.44L853.2,348.02L854.2,348.63L855.2,349.27L856.2,349.91L857.2,350.56L858.2,351.26L859.2,352.01L860.2,352.78L861.2,353.57L862.2,354.36L863.2,355.14L864.2,355.9L865.2,356.69L866.2,357.49L867.2,358.29L868.2,359.08L869.2,359.83L870.2,360.53L871.2,361.16L872.2,361.74L873.2,362.29L874.2,362.81L875.2,363.3L876.2,363.77L877.2,364.21L878.2,364.62L879.2,365.02L880.2,365.42L881.2,365.81L882.2,366.18L883.2,366.51L884.2,366.79L885.2,367.02L886.2,367.17L887.2,367.3L888.2,367.41L889.2,367.51L890.2,367.59L891.2,367.67L892.2,367.74L893.2,367.81L894.2,367.88L895.2,367.95L896.2,368.01L897.2,368.06L898.2,368.12L899.2,368.16L900.9,368.22" fill="none" stroke="#ff7f0e" stroke-width="2.05" stroke-linejoin="round" stroke-linecap="square"/>
</g>
<rect x="647.7" y="253.5" width="252.65" height="183.75" fill="none" stroke="#111111" stroke-width="1.09" stroke-linejoin="miter"/>
<path d="M647.7,437.25v4.77M698.23,437.25v4.77M748.76,437.25v4.77M799.29,437.25v4.77M849.82,437.25v4.77M900.35,437.25v4.77" fill="none" stroke="#000000" stroke-width="1.09"/>
<text x="647.7" y="457" font-size="13.75" text-anchor="middle">0.0</text>
<text x="698.23" y="457" font-size="13.75" text-anchor="middle">0.2</text>
<text x="748.76" y="457" font-size="13.75" text-anchor="middle">0.4</text>
<text x="799.29" y="457" font-size="13.75" text-anchor="middle">0.6</text>
<text x="849.82" y="457" font-size="13.75" text-anchor="middle">0.8</text>
<text x="900.35" y="457" font-size="13.75" text-anchor="middle">1.0</text>
<text x="131.7" y="46.2" font-size="24.85" text-anchor="start">SimFormer</text>
<text x="339.6" y="46" font-size="23.55" text-anchor="start">Simformer+tokenized (<tspan font-style="italic">x</tspan>)</text>
<text x="701.8" y="45.9" font-size="24.7" text-anchor="start">SpatFormer</text>
<text x="390.3" y="483.6" font-size="24.8" text-anchor="start">coordinates (<tspan font-style="italic">x</tspan>)</text>
<text transform="translate(26.7,147.2) rotate(-90)" font-size="24.8" text-anchor="middle"><tspan font-style="italic">f</tspan>(<tspan font-style="italic">x</tspan>)</text>
<text transform="translate(39.6,345.8) rotate(-90)" font-size="24.8" text-anchor="middle"><tspan font-style="italic">f</tspan>(<tspan font-style="italic">x</tspan>)</text>
<rect x="903.4" y="62.4" width="166.1" height="115.4" rx="2.7" ry="2.7" fill="#ffffff" fill-opacity="0.8" stroke="#cccccc" stroke-opacity="0.8" stroke-width="1.36"/>
<path d="M922.15,73.3L927.15,78.3M922.15,78.3L927.15,73.3" fill="none" stroke="#000000" stroke-width="1.9"/>
<path d="M909.45,96.8H939.85" stroke="#1f77b4" stroke-width="2.05" stroke-linecap="square" fill="none"/>
<rect x="909.45" y="113.55" width="30.4" height="10.5" fill="#1f77b4" fill-opacity="0.6"/>
<path d="M909.45,141H939.85" stroke="#ff7f0e" stroke-width="2.05" stroke-linecap="square" fill="none"/>
<rect x="909.45" y="158" width="30.4" height="10.5" fill="#ff7f0e" fill-opacity="0.3"/>
<text x="952" y="79.6" font-size="15.15">Observed data</text>
<text x="952" y="101.8" font-size="15.15">SpatFormer</text>
<text x="952" y="124" font-size="15.15">95% BCI</text>
<text x="952" y="146.3" font-size="15.15">MCMC</text>
<text x="952" y="168.5" font-size="15.15">95% BCI</text>
</svg>
</body>
</html>
